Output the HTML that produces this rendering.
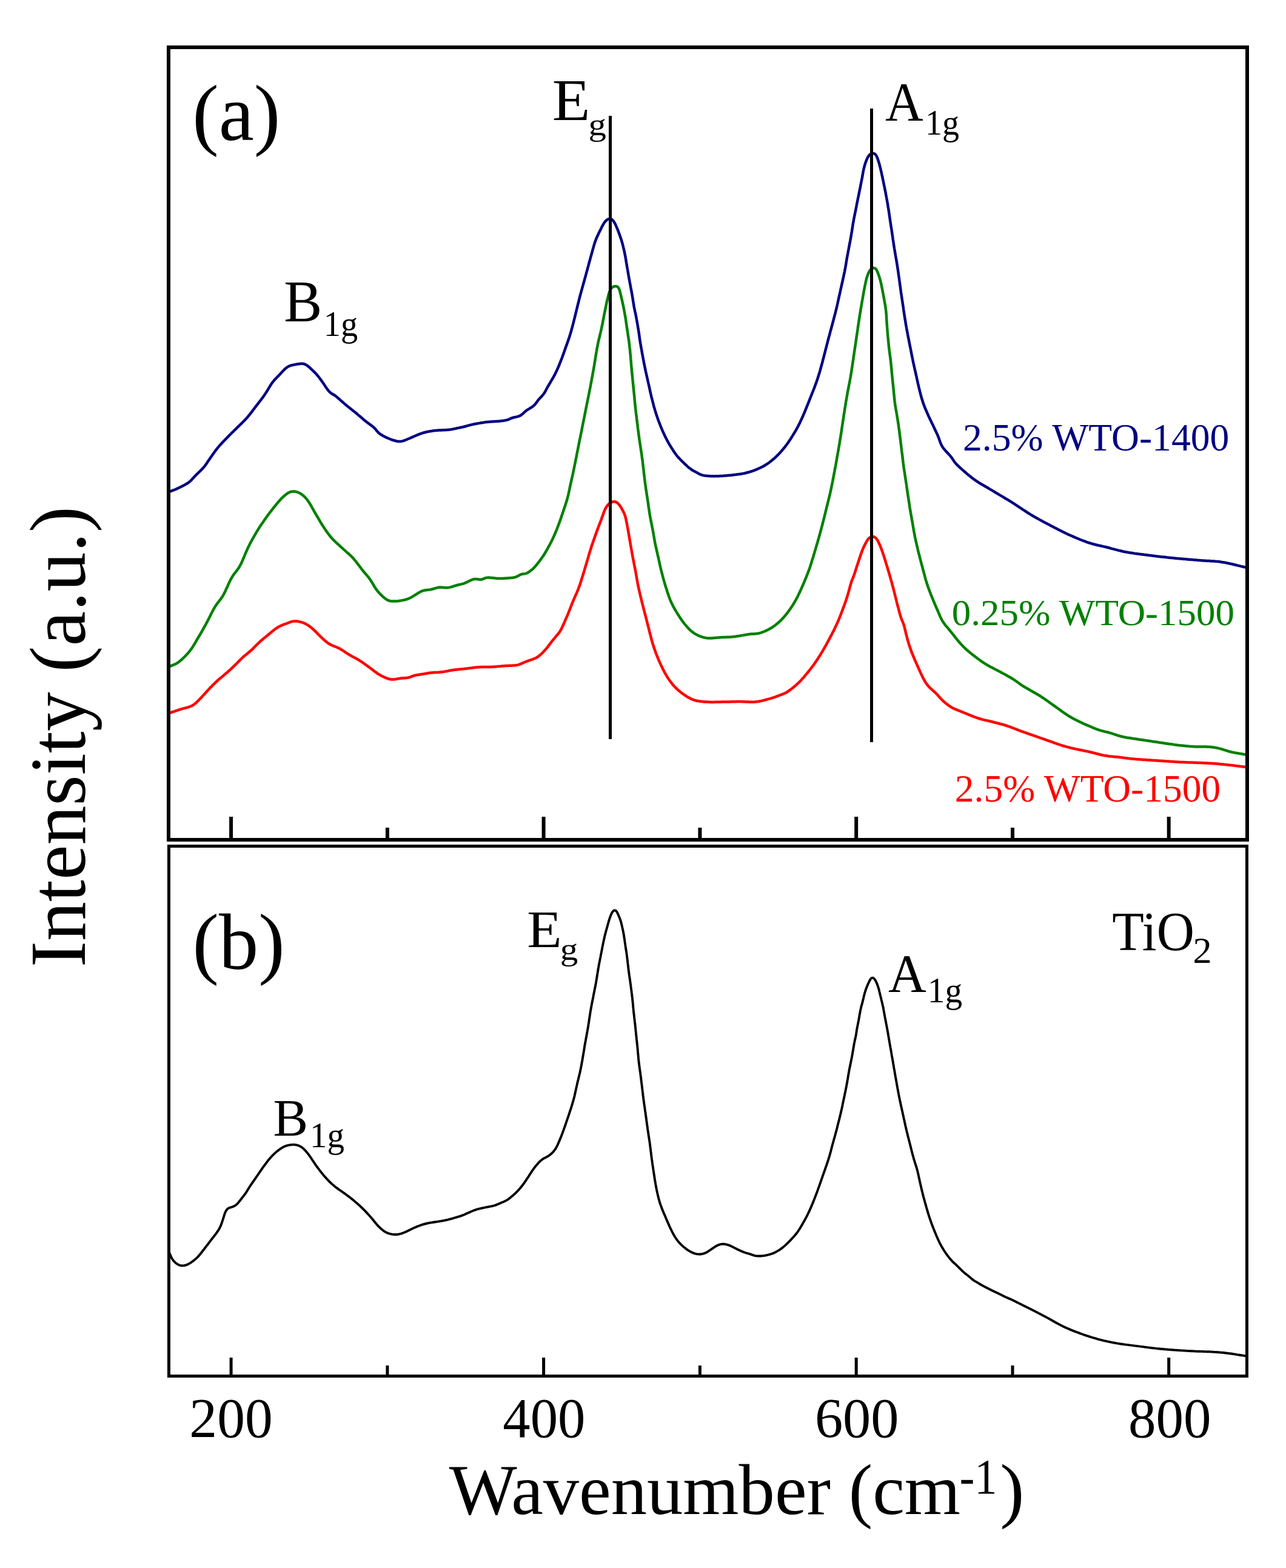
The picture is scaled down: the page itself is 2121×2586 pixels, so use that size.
<!DOCTYPE html>
<html><head><meta charset="utf-8"><title>Raman spectra</title>
<style>html,body{margin:0;padding:0;background:#fff;} svg{display:block;}</style>
</head><body>
<svg xmlns="http://www.w3.org/2000/svg" width="2121" height="2586" viewBox="0 0 2121 2586">
<defs>
<clipPath id="ca"><rect x="281" y="81" width="1773" height="1301"/></clipPath>
<clipPath id="cb"><rect x="281" y="1398" width="1773" height="869"/></clipPath>
</defs>
<rect x="0" y="0" width="2121" height="2586" fill="#fff"/>
<g fill="none" stroke-linejoin="round" stroke-linecap="round">
<g clip-path="url(#ca)">
<path d="M277.1,811.6L278.3,811.2L279.9,810.6L281.7,810.0L283.6,809.4L285.4,808.7L287.3,808.0L289.2,807.2L291.0,806.4L292.8,805.6L294.6,804.7L296.4,803.9L298.2,803.0L300.0,802.1L301.8,801.2L303.6,800.3L305.3,799.3L307.1,798.3L308.8,797.3L310.4,796.2L312.0,795.0L313.5,793.7L315.0,792.4L316.4,790.9L317.7,789.4L319.1,788.0L320.4,786.5L321.8,785.0L323.2,783.6L324.6,782.2L326.0,780.8L327.5,779.4L328.9,778.0L330.4,776.6L331.8,775.2L333.2,773.8L334.5,772.3L335.9,770.8L337.1,769.3L338.4,767.7L339.5,766.1L340.7,764.5L341.8,762.8L342.9,761.1L344.0,759.5L345.1,757.8L346.3,756.2L347.4,754.5L348.6,752.9L349.7,751.3L350.8,749.6L352.0,748.0L353.2,746.4L354.3,744.7L355.5,743.1L356.7,741.5L358.0,740.0L359.2,738.4L360.5,736.9L361.8,735.3L363.1,733.8L364.5,732.4L365.8,730.9L367.2,729.4L368.6,728.0L369.9,726.5L371.3,725.1L372.7,723.7L374.1,722.2L375.5,720.8L376.9,719.4L378.3,717.9L379.7,716.5L381.1,715.1L382.6,713.7L384.0,712.3L385.4,710.9L386.8,709.5L388.3,708.1L389.7,706.7L391.1,705.3L392.5,703.9L394.0,702.5L395.4,701.1L396.9,699.7L398.3,698.3L399.7,696.9L401.1,695.5L402.5,694.1L403.9,692.6L405.3,691.2L406.6,689.7L408.0,688.2L409.3,686.7L410.5,685.1L411.8,683.6L413.0,682.0L414.3,680.4L415.5,678.8L416.7,677.3L417.9,675.7L419.1,674.1L420.3,672.5L421.5,670.9L422.7,669.3L424.0,667.7L425.2,666.1L426.4,664.5L427.6,663.0L428.8,661.4L430.1,659.8L431.3,658.2L432.5,656.6L433.7,655.0L434.8,653.4L436.0,651.7L437.1,650.1L438.2,648.4L439.3,646.7L440.4,645.0L441.4,643.3L442.4,641.6L443.4,639.9L444.5,638.2L445.5,636.5L446.6,634.8L447.7,633.1L448.8,631.5L450.0,629.9L451.3,628.3L452.6,626.8L454.0,625.3L455.3,623.9L456.7,622.5L458.1,621.0L459.5,619.6L460.9,618.1L462.3,616.7L463.6,615.2L465.0,613.7L466.3,612.3L467.7,610.8L469.1,609.4L470.6,608.0L472.1,606.8L473.7,605.6L475.4,604.6L477.2,603.7L479.0,603.0L480.9,602.4L482.9,602.0L484.8,601.6L486.8,601.2L488.8,600.8L490.7,600.5L492.7,600.2L494.7,599.9L496.7,599.8L498.6,599.8L500.6,600.0L502.4,600.6L504.2,601.4L505.9,602.4L507.5,603.6L509.0,604.8L510.6,606.1L512.1,607.5L513.5,608.8L515.0,610.2L516.4,611.6L517.9,613.0L519.3,614.4L520.6,615.8L522.0,617.3L523.3,618.8L524.6,620.4L525.8,621.9L527.0,623.5L528.2,625.1L529.4,626.7L530.6,628.4L531.7,630.0L532.9,631.6L534.0,633.3L535.1,635.0L536.2,636.6L537.3,638.3L538.5,639.9L539.6,641.6L540.8,643.2L542.0,644.7L543.4,646.2L544.8,647.5L546.4,648.7L548.1,649.7L549.8,650.7L551.5,651.7L553.2,652.9L554.7,654.1L556.3,655.4L557.8,656.7L559.3,658.0L560.8,659.3L562.3,660.7L563.8,662.0L565.3,663.3L566.8,664.6L568.3,665.9L569.8,667.2L571.3,668.5L572.9,669.8L574.4,671.1L576.0,672.3L577.6,673.5L579.1,674.8L580.7,676.0L582.3,677.2L583.8,678.5L585.4,679.7L587.0,681.0L588.5,682.3L590.0,683.6L591.5,684.9L593.1,686.2L594.6,687.5L596.1,688.8L597.6,690.1L599.1,691.4L600.7,692.7L602.2,693.9L603.8,695.2L605.3,696.4L606.9,697.6L608.6,698.8L610.2,700.0L611.8,701.2L613.4,702.4L614.9,703.6L616.5,704.9L617.9,706.3L619.2,707.8L620.5,709.3L621.7,710.9L623.0,712.4L624.4,713.8L625.9,715.1L627.5,716.2L629.2,717.3L630.9,718.3L632.7,719.3L634.5,720.2L636.3,721.1L638.1,721.9L639.9,722.7L641.8,723.5L643.6,724.2L645.5,725.0L647.4,725.6L649.3,726.3L651.2,726.8L653.1,727.3L655.1,727.7L657.0,727.9L659.0,728.0L661.0,727.9L662.9,727.6L664.9,727.1L666.8,726.5L668.6,725.8L670.5,725.0L672.3,724.2L674.2,723.5L676.0,722.7L677.9,721.9L679.7,721.1L681.5,720.3L683.4,719.5L685.2,718.7L687.0,717.9L688.9,717.2L690.7,716.4L692.6,715.7L694.5,715.0L696.4,714.3L698.3,713.7L700.2,713.2L702.1,712.7L704.1,712.3L706.0,711.9L708.0,711.5L710.0,711.2L711.9,710.9L713.9,710.6L715.9,710.3L717.9,710.1L719.9,709.9L721.9,709.7L723.9,709.6L725.9,709.5L727.9,709.4L729.9,709.3L731.9,709.3L733.9,709.2L735.9,709.1L737.8,708.9L739.8,708.7L741.8,708.5L743.8,708.2L745.8,707.9L747.7,707.5L749.7,707.1L751.7,706.7L753.6,706.3L755.6,705.9L757.5,705.5L759.5,705.0L761.4,704.6L763.4,704.2L765.3,703.7L767.3,703.2L769.2,702.7L771.1,702.1L773.0,701.6L775.0,701.1L776.9,700.6L778.9,700.1L780.8,699.7L782.8,699.3L784.7,698.9L786.7,698.6L788.7,698.2L790.6,697.9L792.6,697.5L794.6,697.2L796.6,696.9L798.5,696.6L800.5,696.3L802.5,696.1L804.5,695.9L806.5,695.7L808.5,695.5L810.5,695.4L812.5,695.3L814.5,695.2L816.5,695.1L818.5,695.0L820.5,694.8L822.5,694.7L824.4,694.5L826.4,694.2L828.4,694.0L830.4,693.7L832.4,693.4L834.3,693.0L836.3,692.6L838.2,692.0L840.0,691.3L841.8,690.4L843.6,689.6L845.5,689.0L847.4,688.4L849.3,688.0L851.3,687.6L853.2,687.1L855.1,686.6L857.0,685.9L858.7,685.0L860.4,683.9L861.9,682.6L863.4,681.3L864.8,679.9L866.3,678.6L867.9,677.3L869.5,676.2L871.2,675.1L872.9,674.1L874.6,673.0L876.3,672.0L877.9,670.9L879.5,669.7L881.0,668.4L882.4,667.0L883.6,665.4L884.8,663.8L885.9,662.2L887.1,660.6L888.4,659.0L889.7,657.5L891.1,656.1L892.4,654.6L893.8,653.1L895.1,651.6L896.3,650.1L897.5,648.5L898.6,646.8L899.6,645.0L900.5,643.3L901.4,641.5L902.4,639.8L903.3,638.0L904.3,636.3L905.3,634.5L906.4,632.8L907.4,631.1L908.4,629.4L909.4,627.7L910.5,625.9L911.5,624.2L912.5,622.5L913.4,620.7L914.4,619.0L915.3,617.2L916.2,615.4L917.1,613.6L918.0,611.8L918.8,610.0L919.6,608.2L920.4,606.3L921.2,604.5L922.0,602.7L922.7,600.8L923.4,598.9L924.2,597.1L924.9,595.2L925.6,593.4L926.4,591.5L927.1,589.6L927.8,587.7L928.5,585.9L929.1,584.0L929.8,582.1L930.5,580.2L931.1,578.3L931.8,576.4L932.5,574.6L933.1,572.7L933.8,570.8L934.5,568.9L935.2,567.0L935.8,565.1L936.5,563.3L937.2,561.4L937.8,559.5L938.5,557.6L939.1,555.7L939.7,553.8L940.3,551.9L940.9,550.0L941.4,548.0L942.0,546.1L942.5,544.2L943.0,542.3L943.6,540.3L944.1,538.4L944.6,536.5L945.1,534.5L945.6,532.6L946.1,530.7L946.6,528.7L947.1,526.8L947.6,524.8L948.1,522.9L948.5,521.0L949.0,519.0L949.5,517.1L950.0,515.1L950.4,513.2L950.9,511.2L951.4,509.3L951.9,507.4L952.3,505.4L952.8,503.5L953.3,501.5L953.8,499.6L954.3,497.6L954.7,495.7L955.2,493.8L955.7,491.8L956.2,489.9L956.7,487.9L957.2,486.0L957.7,484.1L958.3,482.2L958.8,480.2L959.3,478.3L959.9,476.4L960.4,474.4L960.9,472.5L961.5,470.6L962.0,468.7L962.6,466.7L963.1,464.8L963.6,462.9L964.2,461.0L964.7,459.0L965.2,457.1L965.8,455.2L966.3,453.2L966.8,451.3L967.3,449.4L967.9,447.5L968.4,445.5L968.9,443.6L969.4,441.7L970.0,439.7L970.5,437.8L971.0,435.9L971.5,433.9L972.0,432.0L972.6,430.1L973.1,428.1L973.6,426.2L974.1,424.3L974.7,422.4L975.2,420.4L975.8,418.5L976.3,416.6L976.8,414.7L977.4,412.7L977.9,410.8L978.4,408.9L979.0,406.9L979.5,405.0L980.1,403.1L980.7,401.2L981.3,399.3L982.0,397.4L982.7,395.5L983.4,393.7L984.2,391.8L985.0,390.0L985.8,388.2L986.7,386.4L987.5,384.6L988.4,382.8L989.3,381.0L990.2,379.2L991.1,377.4L992.0,375.6L992.9,373.8L993.8,372.1L994.8,370.3L995.8,368.6L996.9,366.9L998.1,365.4L999.5,363.9L1001.0,362.7L1002.6,361.7L1004.4,361.1L1006.2,361.0L1008.0,361.4L1009.6,362.3L1010.9,363.6L1012.1,365.1L1013.2,366.8L1014.2,368.5L1015.1,370.3L1015.9,372.1L1016.7,374.0L1017.5,375.8L1018.3,377.6L1019.0,379.5L1019.7,381.4L1020.4,383.2L1021.1,385.1L1021.8,387.0L1022.5,388.9L1023.1,390.8L1023.8,392.7L1024.4,394.6L1025.0,396.5L1025.6,398.4L1026.1,400.3L1026.7,402.2L1027.2,404.2L1027.7,406.1L1028.1,408.0L1028.6,410.0L1029.1,411.9L1029.5,413.9L1029.9,415.8L1030.3,417.8L1030.7,419.8L1031.1,421.7L1031.5,423.7L1031.8,425.7L1032.2,427.6L1032.5,429.6L1032.8,431.6L1033.1,433.6L1033.4,435.5L1033.8,437.5L1034.1,439.5L1034.4,441.4L1034.8,443.4L1035.1,445.4L1035.5,447.4L1035.8,449.3L1036.2,451.3L1036.5,453.3L1036.8,455.2L1037.2,457.2L1037.5,459.2L1037.9,461.1L1038.3,463.1L1038.6,465.1L1039.0,467.1L1039.3,469.0L1039.7,471.0L1040.1,473.0L1040.4,474.9L1040.8,476.9L1041.2,478.8L1041.5,480.8L1041.9,482.8L1042.3,484.8L1042.6,486.7L1042.9,488.7L1043.3,490.7L1043.6,492.6L1043.9,494.6L1044.2,496.6L1044.5,498.6L1044.8,500.5L1045.2,502.5L1045.5,504.5L1045.8,506.5L1046.2,508.4L1046.6,510.4L1047.0,512.3L1047.4,514.3L1047.9,516.2L1048.3,518.2L1048.7,520.2L1049.1,522.1L1049.5,524.1L1049.8,526.1L1050.2,528.0L1050.5,530.0L1050.9,532.0L1051.2,533.9L1051.6,535.9L1051.9,537.9L1052.2,539.8L1052.5,541.8L1052.9,543.8L1053.2,545.8L1053.5,547.7L1053.8,549.7L1054.1,551.7L1054.3,553.7L1054.6,555.7L1054.9,557.6L1055.2,559.6L1055.5,561.6L1055.8,563.6L1056.1,565.6L1056.5,567.5L1056.8,569.5L1057.1,571.5L1057.5,573.4L1057.8,575.4L1058.2,577.4L1058.5,579.3L1058.9,581.3L1059.2,583.3L1059.6,585.3L1060.0,587.2L1060.3,589.2L1060.7,591.1L1061.1,593.1L1061.5,595.1L1061.8,597.0L1062.2,599.0L1062.6,601.0L1063.0,602.9L1063.4,604.9L1063.8,606.8L1064.2,608.8L1064.6,610.8L1065.0,612.7L1065.5,614.7L1065.9,616.6L1066.3,618.6L1066.8,620.5L1067.2,622.5L1067.7,624.4L1068.1,626.4L1068.5,628.3L1069.0,630.3L1069.4,632.2L1069.9,634.2L1070.3,636.1L1070.7,638.1L1071.2,640.0L1071.6,642.0L1072.0,644.0L1072.4,645.9L1072.9,647.9L1073.3,649.8L1073.8,651.8L1074.2,653.7L1074.7,655.6L1075.2,657.6L1075.7,659.5L1076.2,661.5L1076.7,663.4L1077.2,665.3L1077.7,667.3L1078.2,669.2L1078.7,671.1L1079.3,673.1L1079.9,675.0L1080.4,676.9L1081.0,678.8L1081.6,680.7L1082.2,682.6L1082.8,684.5L1083.5,686.4L1084.1,688.3L1084.8,690.2L1085.4,692.1L1086.1,694.0L1086.8,695.8L1087.5,697.7L1088.3,699.6L1089.0,701.4L1089.7,703.3L1090.5,705.1L1091.3,707.0L1092.0,708.8L1092.8,710.7L1093.6,712.5L1094.4,714.3L1095.3,716.1L1096.1,718.0L1097.0,719.8L1097.9,721.6L1098.8,723.3L1099.7,725.1L1100.7,726.9L1101.6,728.6L1102.6,730.4L1103.6,732.1L1104.6,733.8L1105.6,735.5L1106.7,737.2L1107.7,738.9L1108.8,740.6L1109.9,742.3L1111.0,744.0L1112.1,745.7L1113.2,747.3L1114.4,748.9L1115.6,750.5L1116.8,752.1L1118.1,753.6L1119.5,755.1L1120.8,756.5L1122.2,758.0L1123.6,759.4L1125.0,760.8L1126.4,762.2L1127.9,763.6L1129.3,765.0L1130.8,766.4L1132.2,767.7L1133.7,769.1L1135.2,770.4L1136.8,771.7L1138.4,772.9L1140.0,774.1L1141.6,775.2L1143.3,776.2L1145.1,777.2L1146.8,778.1L1148.6,779.1L1150.4,780.0L1152.1,781.0L1153.9,781.9L1155.7,782.7L1157.6,783.4L1159.5,783.9L1161.4,784.3L1163.4,784.6L1165.4,784.8L1167.4,785.0L1169.4,785.1L1171.4,785.2L1173.4,785.3L1175.4,785.3L1177.4,785.4L1179.4,785.3L1181.4,785.3L1183.4,785.3L1185.4,785.2L1187.4,785.1L1189.4,785.0L1191.4,784.9L1193.4,784.8L1195.4,784.6L1197.4,784.5L1199.3,784.3L1201.3,784.1L1203.3,783.9L1205.3,783.7L1207.3,783.5L1209.3,783.2L1211.3,783.0L1213.3,782.8L1215.2,782.5L1217.2,782.2L1219.2,782.0L1221.2,781.7L1223.2,781.4L1225.1,781.0L1227.1,780.7L1229.1,780.3L1231.0,779.8L1232.9,779.3L1234.9,778.8L1236.8,778.2L1238.7,777.6L1240.6,777.0L1242.5,776.3L1244.3,775.6L1246.2,774.9L1248.1,774.1L1249.9,773.3L1251.7,772.5L1253.5,771.7L1255.3,770.8L1257.1,769.9L1258.9,769.0L1260.6,768.0L1262.3,767.0L1264.0,765.9L1265.7,764.8L1267.4,763.7L1269.0,762.5L1270.6,761.3L1272.2,760.1L1273.7,758.8L1275.2,757.5L1276.7,756.2L1278.2,754.9L1279.7,753.5L1281.1,752.1L1282.5,750.7L1283.9,749.3L1285.3,747.8L1286.7,746.4L1288.0,744.9L1289.3,743.4L1290.7,741.9L1291.9,740.3L1293.2,738.8L1294.5,737.2L1295.7,735.6L1296.9,734.0L1298.1,732.4L1299.2,730.8L1300.4,729.2L1301.5,727.5L1302.6,725.8L1303.7,724.2L1304.8,722.5L1305.8,720.8L1306.9,719.1L1308.0,717.4L1309.0,715.7L1310.0,714.0L1311.1,712.3L1312.1,710.5L1313.1,708.8L1314.1,707.1L1315.0,705.3L1316.0,703.6L1316.9,701.8L1317.8,700.0L1318.7,698.2L1319.6,696.4L1320.4,694.6L1321.3,692.8L1322.1,691.0L1322.9,689.2L1323.8,687.3L1324.6,685.5L1325.3,683.7L1326.1,681.8L1326.9,680.0L1327.7,678.1L1328.4,676.3L1329.2,674.4L1329.9,672.6L1330.7,670.7L1331.4,668.9L1332.2,667.0L1332.9,665.2L1333.7,663.3L1334.4,661.4L1335.1,659.6L1335.9,657.7L1336.6,655.8L1337.3,654.0L1338.1,652.1L1338.8,650.3L1339.5,648.4L1340.3,646.6L1341.0,644.7L1341.8,642.8L1342.5,641.0L1343.2,639.1L1343.9,637.2L1344.6,635.4L1345.3,633.5L1346.0,631.6L1346.7,629.7L1347.3,627.8L1348.0,625.9L1348.6,624.0L1349.2,622.1L1349.8,620.2L1350.4,618.3L1351.0,616.4L1351.6,614.5L1352.2,612.6L1352.7,610.7L1353.2,608.7L1353.8,606.8L1354.3,604.9L1354.8,602.9L1355.4,601.0L1355.9,599.1L1356.4,597.2L1356.9,595.2L1357.4,593.3L1357.9,591.3L1358.4,589.4L1358.9,587.5L1359.4,585.5L1359.9,583.6L1360.4,581.7L1360.9,579.7L1361.4,577.8L1361.9,575.8L1362.4,573.9L1362.9,572.0L1363.4,570.0L1363.9,568.1L1364.4,566.2L1364.9,564.2L1365.4,562.3L1365.9,560.4L1366.4,558.4L1366.9,556.5L1367.4,554.6L1368.0,552.6L1368.5,550.7L1369.0,548.8L1369.5,546.8L1370.0,544.9L1370.6,543.0L1371.1,541.0L1371.6,539.1L1372.1,537.2L1372.6,535.2L1373.2,533.3L1373.7,531.4L1374.2,529.4L1374.7,527.5L1375.2,525.6L1375.7,523.6L1376.2,521.7L1376.7,519.8L1377.3,517.8L1377.8,515.9L1378.2,514.0L1378.7,512.0L1379.2,510.1L1379.7,508.1L1380.1,506.2L1380.6,504.3L1381.0,502.3L1381.5,500.3L1381.9,498.4L1382.3,496.4L1382.7,494.5L1383.1,492.5L1383.6,490.6L1384.0,488.6L1384.4,486.7L1384.9,484.7L1385.3,482.8L1385.8,480.8L1386.2,478.9L1386.6,476.9L1387.1,475.0L1387.5,473.0L1387.9,471.1L1388.4,469.1L1388.8,467.1L1389.2,465.2L1389.7,463.2L1390.1,461.3L1390.5,459.3L1391.0,457.4L1391.4,455.4L1391.8,453.5L1392.2,451.5L1392.7,449.6L1393.1,447.6L1393.4,445.6L1393.8,443.7L1394.2,441.7L1394.5,439.7L1394.9,437.8L1395.2,435.8L1395.5,433.8L1395.8,431.8L1396.2,429.9L1396.5,427.9L1396.8,425.9L1397.2,424.0L1397.5,422.0L1397.9,420.0L1398.3,418.1L1398.6,416.1L1399.0,414.1L1399.4,412.2L1399.8,410.2L1400.1,408.2L1400.5,406.3L1400.9,404.3L1401.3,402.3L1401.6,400.4L1402.0,398.4L1402.4,396.4L1402.7,394.5L1403.1,392.5L1403.5,390.5L1403.8,388.6L1404.1,386.6L1404.4,384.6L1404.8,382.6L1405.1,380.7L1405.4,378.7L1405.7,376.7L1406.0,374.7L1406.3,372.8L1406.6,370.8L1406.9,368.8L1407.3,366.8L1407.6,364.9L1408.0,362.9L1408.3,360.9L1408.7,359.0L1409.1,357.0L1409.5,355.0L1409.9,353.1L1410.3,351.1L1410.7,349.2L1411.1,347.2L1411.5,345.2L1411.9,343.3L1412.3,341.3L1412.7,339.4L1413.0,337.4L1413.4,335.4L1413.8,333.5L1414.2,331.5L1414.6,329.6L1415.0,327.6L1415.4,325.6L1415.8,323.7L1416.2,321.7L1416.6,319.8L1417.0,317.8L1417.4,315.8L1417.8,313.9L1418.2,311.9L1418.6,310.0L1419.0,308.0L1419.4,306.0L1419.7,304.1L1420.1,302.1L1420.5,300.1L1420.9,298.2L1421.3,296.2L1421.7,294.2L1422.0,292.3L1422.4,290.3L1422.7,288.3L1423.1,286.4L1423.4,284.4L1423.8,282.4L1424.2,280.5L1424.6,278.5L1425.1,276.6L1425.6,274.6L1426.1,272.7L1426.7,270.8L1427.3,268.9L1428.0,267.0L1428.7,265.1L1429.4,263.3L1430.2,261.5L1431.1,259.7L1432.1,258.0L1433.3,256.4L1434.6,255.0L1436.1,253.8L1437.8,253.0L1439.6,252.8L1441.3,253.1L1442.9,253.9L1444.2,255.2L1445.3,256.8L1446.2,258.6L1447.0,260.4L1447.7,262.3L1448.3,264.2L1448.9,266.1L1449.5,268.0L1450.1,269.9L1450.6,271.8L1451.1,273.8L1451.6,275.7L1452.1,277.6L1452.6,279.6L1453.0,281.5L1453.5,283.5L1453.9,285.4L1454.3,287.4L1454.7,289.3L1455.2,291.3L1455.6,293.2L1456.0,295.2L1456.4,297.2L1456.8,299.1L1457.2,301.1L1457.6,303.0L1458.0,305.0L1458.4,307.0L1458.8,308.9L1459.2,310.9L1459.6,312.8L1460.0,314.8L1460.4,316.8L1460.8,318.7L1461.1,320.7L1461.5,322.7L1461.9,324.6L1462.2,326.6L1462.6,328.6L1462.9,330.5L1463.3,332.5L1463.6,334.5L1464.0,336.4L1464.3,338.4L1464.6,340.4L1464.9,342.4L1465.3,344.3L1465.6,346.3L1465.9,348.3L1466.2,350.3L1466.5,352.2L1466.7,354.2L1467.0,356.2L1467.3,358.2L1467.6,360.2L1467.9,362.1L1468.2,364.1L1468.5,366.1L1468.8,368.1L1469.1,370.1L1469.4,372.0L1469.7,374.0L1470.0,376.0L1470.3,378.0L1470.6,379.9L1470.9,381.9L1471.2,383.9L1471.5,385.9L1471.8,387.9L1472.1,389.8L1472.4,391.8L1472.6,393.8L1472.9,395.8L1473.2,397.7L1473.5,399.7L1473.8,401.7L1474.1,403.7L1474.4,405.7L1474.7,407.6L1475.0,409.6L1475.4,411.6L1475.7,413.6L1476.0,415.5L1476.4,417.5L1476.7,419.5L1477.0,421.4L1477.4,423.4L1477.7,425.4L1478.1,427.4L1478.4,429.3L1478.7,431.3L1479.1,433.3L1479.4,435.2L1479.7,437.2L1480.0,439.2L1480.3,441.2L1480.6,443.2L1480.9,445.1L1481.2,447.1L1481.5,449.1L1481.8,451.1L1482.0,453.1L1482.3,455.0L1482.6,457.0L1482.9,459.0L1483.2,461.0L1483.4,463.0L1483.7,464.9L1484.0,466.9L1484.2,468.9L1484.5,470.9L1484.8,472.9L1485.0,474.9L1485.3,476.8L1485.6,478.8L1485.8,480.8L1486.1,482.8L1486.4,484.8L1486.7,486.7L1487.0,488.7L1487.3,490.7L1487.6,492.7L1487.9,494.6L1488.2,496.6L1488.5,498.6L1488.8,500.6L1489.1,502.6L1489.4,504.5L1489.7,506.5L1490.0,508.5L1490.2,510.5L1490.5,512.5L1490.8,514.4L1491.1,516.4L1491.4,518.4L1491.7,520.4L1492.0,522.3L1492.3,524.3L1492.6,526.3L1493.0,528.3L1493.3,530.2L1493.6,532.2L1493.9,534.2L1494.3,536.2L1494.6,538.1L1495.0,540.1L1495.3,542.1L1495.7,544.0L1496.0,546.0L1496.4,548.0L1496.8,549.9L1497.1,551.9L1497.5,553.9L1497.9,555.8L1498.3,557.8L1498.7,559.8L1499.1,561.7L1499.4,563.7L1499.8,565.6L1500.2,567.6L1500.6,569.6L1501.0,571.5L1501.4,573.5L1501.8,575.4L1502.2,577.4L1502.6,579.4L1502.9,581.3L1503.3,583.3L1503.7,585.3L1504.1,587.2L1504.5,589.2L1504.9,591.1L1505.3,593.1L1505.7,595.1L1506.1,597.0L1506.5,599.0L1507.0,600.9L1507.4,602.9L1507.8,604.8L1508.3,606.8L1508.7,608.7L1509.2,610.7L1509.6,612.6L1510.0,614.6L1510.5,616.5L1510.9,618.5L1511.4,620.4L1511.8,622.4L1512.2,624.4L1512.6,626.3L1513.1,628.3L1513.5,630.2L1513.9,632.2L1514.4,634.1L1514.8,636.1L1515.3,638.0L1515.7,640.0L1516.2,641.9L1516.7,643.8L1517.2,645.8L1517.7,647.7L1518.2,649.7L1518.7,651.6L1519.2,653.5L1519.7,655.4L1520.3,657.4L1520.9,659.3L1521.5,661.2L1522.1,663.1L1522.7,665.0L1523.4,666.9L1524.1,668.8L1524.8,670.6L1525.5,672.5L1526.3,674.3L1527.1,676.2L1527.9,678.0L1528.7,679.8L1529.5,681.7L1530.3,683.5L1531.1,685.3L1531.9,687.1L1532.8,689.0L1533.6,690.8L1534.5,692.6L1535.4,694.4L1536.2,696.2L1537.1,698.0L1538.0,699.8L1538.9,701.6L1539.7,703.4L1540.6,705.2L1541.4,707.0L1542.3,708.8L1543.1,710.6L1544.0,712.4L1544.8,714.2L1545.7,716.1L1546.5,717.9L1547.2,719.7L1548.0,721.6L1548.7,723.5L1549.3,725.3L1550.0,727.2L1550.6,729.1L1551.4,731.0L1552.2,732.8L1553.0,734.6L1554.0,736.3L1555.1,738.0L1556.3,739.6L1557.6,741.2L1558.8,742.7L1560.2,744.2L1561.5,745.6L1562.9,747.1L1564.3,748.6L1565.6,750.0L1567.0,751.5L1568.2,753.1L1569.5,754.6L1570.6,756.3L1571.7,757.9L1572.8,759.6L1573.9,761.3L1575.1,762.9L1576.4,764.4L1577.7,765.8L1579.1,767.3L1580.6,768.6L1582.0,770.0L1583.5,771.4L1585.0,772.7L1586.5,774.1L1588.0,775.4L1589.5,776.7L1591.0,778.0L1592.5,779.3L1594.0,780.6L1595.5,781.9L1597.1,783.2L1598.6,784.5L1600.2,785.7L1601.8,787.0L1603.3,788.2L1604.9,789.4L1606.5,790.6L1608.2,791.8L1609.8,792.9L1611.5,794.0L1613.1,795.1L1614.8,796.2L1616.5,797.2L1618.2,798.3L1619.9,799.3L1621.7,800.3L1623.4,801.3L1625.1,802.3L1626.9,803.3L1628.6,804.3L1630.3,805.3L1632.0,806.4L1633.8,807.4L1635.5,808.4L1637.2,809.4L1638.9,810.4L1640.6,811.5L1642.3,812.5L1644.1,813.5L1645.8,814.5L1647.5,815.6L1649.2,816.6L1651.0,817.6L1652.7,818.6L1654.4,819.6L1656.1,820.7L1657.8,821.7L1659.5,822.7L1661.3,823.7L1663.0,824.8L1664.7,825.8L1666.4,826.9L1668.1,827.9L1669.8,829.0L1671.4,830.1L1673.1,831.2L1674.8,832.3L1676.5,833.4L1678.1,834.5L1679.8,835.6L1681.5,836.7L1683.1,837.8L1684.8,838.9L1686.5,840.0L1688.1,841.1L1689.8,842.2L1691.5,843.3L1693.1,844.4L1694.8,845.5L1696.5,846.5L1698.2,847.6L1699.9,848.6L1701.6,849.7L1703.4,850.7L1705.1,851.7L1706.8,852.7L1708.6,853.7L1710.3,854.7L1712.1,855.6L1713.8,856.6L1715.6,857.6L1717.3,858.5L1719.1,859.5L1720.8,860.4L1722.6,861.4L1724.4,862.3L1726.1,863.2L1727.9,864.2L1729.7,865.1L1731.4,866.0L1733.2,867.0L1735.0,867.9L1736.8,868.8L1738.5,869.8L1740.3,870.7L1742.1,871.6L1743.9,872.5L1745.6,873.4L1747.4,874.3L1749.2,875.3L1751.0,876.1L1752.8,877.0L1754.6,877.9L1756.4,878.8L1758.2,879.7L1760.0,880.5L1761.8,881.4L1763.6,882.2L1765.4,883.0L1767.3,883.8L1769.1,884.6L1770.9,885.4L1772.8,886.2L1774.6,887.0L1776.5,887.8L1778.3,888.5L1780.2,889.3L1782.0,890.0L1783.9,890.8L1785.7,891.5L1787.6,892.2L1789.5,892.9L1791.4,893.6L1793.2,894.3L1795.1,894.9L1797.0,895.5L1798.9,896.1L1800.9,896.7L1802.8,897.3L1804.7,897.8L1806.7,898.3L1808.6,898.7L1810.5,899.2L1812.5,899.6L1814.5,900.0L1816.4,900.5L1818.4,900.9L1820.3,901.4L1822.2,901.8L1824.2,902.3L1826.1,902.8L1828.1,903.3L1830.0,903.8L1831.9,904.3L1833.9,904.9L1835.8,905.4L1837.7,905.9L1839.7,906.4L1841.6,906.9L1843.5,907.4L1845.5,907.9L1847.4,908.3L1849.4,908.8L1851.3,909.2L1853.3,909.7L1855.2,910.1L1857.2,910.4L1859.2,910.8L1861.1,911.1L1863.1,911.5L1865.1,911.8L1867.1,912.1L1869.0,912.4L1871.0,912.7L1873.0,912.9L1875.0,913.2L1877.0,913.5L1878.9,913.7L1880.9,914.0L1882.9,914.2L1884.9,914.5L1886.9,914.8L1888.9,915.0L1890.8,915.3L1892.8,915.6L1894.8,915.8L1896.8,916.1L1898.8,916.3L1900.8,916.5L1902.8,916.8L1904.7,917.0L1906.7,917.3L1908.7,917.5L1910.7,917.7L1912.7,917.9L1914.7,918.2L1916.7,918.4L1918.7,918.6L1920.6,918.8L1922.6,919.0L1924.6,919.3L1926.6,919.5L1928.6,919.7L1930.6,919.9L1932.6,920.1L1934.6,920.3L1936.6,920.5L1938.5,920.7L1940.5,920.9L1942.5,921.1L1944.5,921.2L1946.5,921.4L1948.5,921.6L1950.5,921.8L1952.5,922.0L1954.5,922.1L1956.5,922.3L1958.5,922.5L1960.5,922.7L1962.5,922.8L1964.4,923.0L1966.4,923.1L1968.4,923.3L1970.4,923.4L1972.4,923.6L1974.4,923.8L1976.4,923.9L1978.4,924.1L1980.4,924.2L1982.4,924.4L1984.4,924.5L1986.4,924.7L1988.4,924.8L1990.4,924.9L1992.4,925.0L1994.4,925.1L1996.4,925.2L1998.4,925.4L2000.4,925.5L2002.4,925.6L2004.3,925.8L2006.3,925.9L2008.3,926.1L2010.3,926.3L2012.3,926.6L2014.3,926.9L2016.3,927.2L2018.2,927.5L2020.2,927.8L2022.2,928.2L2024.1,928.6L2026.1,929.0L2028.0,929.5L2030.0,929.9L2031.9,930.3L2033.9,930.8L2035.8,931.2L2037.8,931.7L2039.7,932.2L2041.7,932.6L2043.6,933.1L2045.6,933.6L2047.5,934.1L2049.4,934.5L2051.4,935.0L2053.3,935.4L2055.2,935.9L2057.0,936.3L2058.4,936.6L2058.9,936.7" stroke="#000080" stroke-width="4.5"/>
<path d="M277.1,1100.1L278.3,1099.6L279.8,1099.0L281.6,1098.3L283.5,1097.6L285.3,1096.9L287.2,1096.1L289.0,1095.3L290.8,1094.4L292.5,1093.4L294.1,1092.3L295.7,1091.1L297.3,1089.8L298.8,1088.5L300.3,1087.2L301.7,1085.8L303.2,1084.4L304.6,1083.0L306.0,1081.6L307.4,1080.1L308.7,1078.6L310.0,1077.2L311.3,1075.6L312.6,1074.1L313.8,1072.5L315.0,1070.9L316.2,1069.3L317.3,1067.6L318.4,1065.9L319.4,1064.2L320.5,1062.5L321.5,1060.8L322.5,1059.1L323.5,1057.4L324.5,1055.6L325.5,1053.9L326.5,1052.2L327.6,1050.5L328.6,1048.7L329.6,1047.0L330.6,1045.3L331.6,1043.5L332.6,1041.8L333.6,1040.1L334.6,1038.3L335.6,1036.6L336.5,1034.9L337.5,1033.1L338.5,1031.4L339.5,1029.6L340.4,1027.8L341.3,1026.1L342.3,1024.3L343.2,1022.5L344.1,1020.7L345.0,1019.0L345.9,1017.2L346.8,1015.4L347.7,1013.6L348.6,1011.8L349.5,1010.0L350.4,1008.3L351.4,1006.5L352.3,1004.7L353.3,1003.0L354.3,1001.3L355.4,999.6L356.5,997.9L357.6,996.3L358.8,994.7L360.0,993.1L361.3,991.5L362.5,989.9L363.7,988.3L364.9,986.7L366.0,985.0L367.1,983.4L368.1,981.7L369.1,979.9L370.0,978.1L370.9,976.4L371.8,974.6L372.6,972.7L373.4,970.9L374.3,969.1L375.1,967.3L375.9,965.4L376.7,963.6L377.5,961.8L378.4,960.0L379.2,958.2L380.1,956.4L381.1,954.6L382.0,952.9L383.1,951.2L384.2,949.5L385.3,947.8L386.5,946.2L387.7,944.7L388.9,943.1L390.2,941.5L391.4,939.9L392.5,938.3L393.7,936.6L394.7,934.9L395.7,933.2L396.7,931.4L397.6,929.7L398.4,927.9L399.2,926.0L400.1,924.2L400.8,922.4L401.6,920.5L402.4,918.7L403.2,916.8L403.9,915.0L404.7,913.1L405.5,911.3L406.3,909.5L407.1,907.6L407.9,905.8L408.7,904.0L409.6,902.2L410.5,900.4L411.4,898.6L412.3,896.8L413.2,895.0L414.1,893.3L415.1,891.5L416.0,889.8L417.0,888.0L418.0,886.3L419.0,884.5L420.0,882.8L421.0,881.1L422.0,879.3L423.0,877.6L424.1,875.9L425.1,874.2L426.2,872.5L427.2,870.8L428.3,869.1L429.4,867.5L430.5,865.8L431.6,864.2L432.8,862.5L433.9,860.9L435.1,859.2L436.2,857.6L437.4,855.9L438.5,854.3L439.7,852.7L440.8,851.1L442.0,849.4L443.2,847.8L444.4,846.2L445.6,844.6L446.8,843.1L448.1,841.5L449.3,839.9L450.5,838.3L451.8,836.8L453.0,835.2L454.3,833.6L455.5,832.1L456.8,830.5L458.1,829.0L459.4,827.5L460.7,826.0L462.0,824.5L463.4,823.0L464.8,821.6L466.3,820.2L467.7,818.9L469.2,817.5L470.7,816.2L472.3,815.0L473.9,813.8L475.6,812.8L477.4,811.9L479.2,811.2L481.1,810.8L483.1,810.5L485.1,810.5L487.0,810.8L489.0,811.2L490.9,811.8L492.7,812.5L494.5,813.4L496.2,814.4L497.8,815.6L499.4,816.8L500.9,818.1L502.4,819.4L503.8,820.9L505.1,822.4L506.4,823.9L507.6,825.5L508.7,827.1L509.8,828.8L510.9,830.5L511.9,832.2L512.9,833.9L513.9,835.7L514.9,837.4L515.8,839.2L516.8,840.9L517.8,842.6L518.8,844.4L519.8,846.1L520.8,847.8L521.8,849.6L522.8,851.3L523.9,853.0L524.9,854.7L525.9,856.5L526.9,858.2L527.9,859.9L528.9,861.6L530.0,863.3L531.0,865.0L532.1,866.7L533.2,868.4L534.3,870.1L535.4,871.8L536.5,873.4L537.6,875.1L538.8,876.7L539.9,878.3L541.1,879.9L542.3,881.5L543.6,883.1L544.8,884.7L546.1,886.2L547.4,887.7L548.8,889.2L550.1,890.6L551.5,892.0L553.0,893.4L554.4,894.8L555.9,896.2L557.4,897.5L558.9,898.9L560.3,900.2L561.8,901.5L563.3,902.9L564.8,904.2L566.3,905.6L567.8,906.9L569.2,908.2L570.7,909.6L572.2,910.9L573.8,912.2L575.2,913.5L576.7,914.9L578.2,916.3L579.6,917.7L581.0,919.1L582.4,920.5L583.7,922.0L585.0,923.6L586.3,925.1L587.5,926.7L588.7,928.3L589.9,929.8L591.1,931.4L592.3,933.0L593.5,934.6L594.7,936.2L595.9,937.8L597.2,939.4L598.4,941.0L599.7,942.6L600.9,944.1L602.2,945.6L603.6,947.1L604.9,948.6L606.2,950.2L607.4,951.7L608.7,953.3L609.8,954.9L611.0,956.5L612.1,958.2L613.1,959.9L614.1,961.6L615.2,963.3L616.2,965.1L617.2,966.8L618.2,968.5L619.3,970.2L620.5,971.8L621.6,973.4L622.9,975.0L624.2,976.5L625.5,978.0L626.9,979.4L628.3,980.9L629.7,982.3L631.2,983.6L632.7,985.0L634.2,986.3L635.8,987.5L637.4,988.6L639.1,989.6L640.9,990.4L642.8,991.0L644.7,991.3L646.7,991.5L648.7,991.6L650.7,991.6L652.7,991.5L654.7,991.4L656.7,991.2L658.7,990.9L660.6,990.6L662.6,990.3L664.6,989.9L666.5,989.5L668.5,989.0L670.4,988.5L672.3,987.8L674.1,987.1L676.0,986.3L677.7,985.4L679.5,984.4L681.2,983.4L682.9,982.3L684.6,981.3L686.3,980.2L688.0,979.2L689.7,978.1L691.4,977.1L693.1,976.1L694.9,975.2L696.8,974.5L698.7,973.9L700.6,973.5L702.6,973.2L704.6,973.0L706.5,972.8L708.5,972.6L710.5,972.3L712.4,971.8L714.4,971.3L716.3,970.7L718.2,970.1L720.1,969.6L722.0,969.1L724.0,968.8L726.0,968.6L727.9,968.7L729.9,968.8L731.9,969.0L733.9,969.2L735.9,969.3L737.9,969.2L739.8,969.0L741.8,968.6L743.7,968.1L745.6,967.6L747.5,967.0L749.5,966.4L751.4,965.8L753.3,965.3L755.2,964.8L757.2,964.3L759.1,963.9L761.1,963.4L763.0,962.9L764.9,962.3L766.8,961.6L768.6,960.8L770.4,959.9L772.2,959.1L774.0,958.2L775.8,957.3L777.6,956.5L779.5,955.7L781.3,955.2L783.3,954.9L785.2,954.9L787.2,955.2L789.1,955.5L791.1,955.8L793.0,955.8L794.9,955.5L796.7,954.9L798.5,954.1L800.3,953.4L802.2,952.9L804.1,952.6L806.1,952.6L808.1,952.7L810.1,952.9L812.1,953.1L814.1,953.3L816.1,953.5L818.0,953.7L820.0,953.9L822.0,954.0L824.0,954.0L826.0,954.0L828.0,953.9L830.0,953.9L832.0,953.8L834.0,953.7L836.0,953.5L838.0,953.4L840.0,953.3L842.0,953.1L844.0,952.9L846.0,952.7L847.9,952.3L849.9,951.9L851.7,951.2L853.5,950.4L855.3,949.4L857.0,948.5L858.7,947.6L860.6,946.9L862.4,946.6L864.4,946.4L866.3,946.1L868.1,945.6L869.9,944.8L871.6,943.8L873.2,942.7L874.8,941.5L876.4,940.2L877.9,939.0L879.4,937.7L880.8,936.3L882.2,934.8L883.5,933.3L884.8,931.7L886.0,930.2L887.3,928.6L888.5,927.0L889.7,925.4L890.9,923.8L892.1,922.2L893.3,920.6L894.4,919.0L895.6,917.3L896.7,915.7L897.7,914.0L898.8,912.3L899.8,910.5L900.8,908.8L901.8,907.1L902.8,905.3L903.8,903.6L904.7,901.9L905.7,900.1L906.6,898.3L907.6,896.6L908.5,894.8L909.4,893.0L910.3,891.2L911.2,889.4L912.0,887.6L912.9,885.8L913.7,884.0L914.5,882.2L915.3,880.3L916.1,878.5L916.8,876.6L917.6,874.8L918.4,872.9L919.1,871.1L919.8,869.2L920.5,867.3L921.2,865.5L921.9,863.6L922.6,861.7L923.3,859.8L924.0,857.9L924.6,856.1L925.3,854.2L925.9,852.3L926.5,850.4L927.2,848.5L927.8,846.6L928.4,844.7L929.1,842.8L929.7,840.9L930.4,839.0L931.0,837.1L931.7,835.2L932.3,833.3L932.9,831.4L933.5,829.5L934.1,827.6L934.7,825.7L935.3,823.8L935.8,821.8L936.3,819.9L936.8,818.0L937.3,816.0L937.7,814.1L938.1,812.1L938.5,810.2L939.0,808.2L939.4,806.2L939.8,804.3L940.2,802.3L940.6,800.4L941.1,798.4L941.5,796.5L941.9,794.5L942.4,792.6L942.8,790.6L943.2,788.7L943.7,786.7L944.1,784.8L944.6,782.8L945.0,780.9L945.4,778.9L945.8,776.9L946.2,775.0L946.6,773.0L947.0,771.1L947.4,769.1L947.8,767.1L948.2,765.2L948.6,763.2L949.0,761.3L949.4,759.3L949.8,757.3L950.2,755.4L950.6,753.4L951.0,751.5L951.3,749.5L951.7,747.5L952.1,745.6L952.5,743.6L952.9,741.6L953.3,739.7L953.7,737.7L954.1,735.8L954.5,733.8L954.9,731.8L955.2,729.9L955.6,727.9L956.0,725.9L956.4,724.0L956.8,722.0L957.2,720.1L957.6,718.1L958.0,716.1L958.4,714.2L958.8,712.2L959.2,710.3L959.6,708.3L960.0,706.3L960.3,704.4L960.7,702.4L961.1,700.5L961.5,698.5L961.9,696.5L962.3,694.6L962.7,692.6L963.1,690.6L963.5,688.7L963.9,686.7L964.3,684.8L964.7,682.8L965.1,680.8L965.4,678.9L965.8,676.9L966.2,675.0L966.6,673.0L967.0,671.0L967.4,669.1L967.8,667.1L968.2,665.1L968.6,663.2L969.0,661.2L969.4,659.3L969.8,657.3L970.2,655.3L970.6,653.4L971.0,651.4L971.4,649.5L971.7,647.5L972.1,645.5L972.5,643.6L972.9,641.6L973.3,639.6L973.7,637.7L974.0,635.7L974.4,633.8L974.8,631.8L975.1,629.8L975.5,627.9L975.9,625.9L976.2,623.9L976.6,622.0L977.0,620.0L977.3,618.0L977.7,616.0L978.0,614.1L978.4,612.1L978.7,610.1L979.1,608.2L979.4,606.2L979.8,604.2L980.1,602.3L980.4,600.3L980.8,598.3L981.1,596.3L981.4,594.4L981.7,592.4L982.0,590.4L982.3,588.4L982.7,586.5L983.0,584.5L983.3,582.5L983.6,580.5L984.0,578.6L984.3,576.6L984.6,574.6L985.0,572.7L985.4,570.7L985.8,568.7L986.2,566.8L986.6,564.8L987.0,562.9L987.5,560.9L987.9,559.0L988.4,557.0L988.9,555.1L989.4,553.1L989.8,551.2L990.3,549.3L990.8,547.3L991.2,545.4L991.6,543.4L992.1,541.5L992.5,539.5L992.9,537.5L993.3,535.6L993.7,533.6L994.1,531.7L994.4,529.7L994.8,527.7L995.2,525.8L995.6,523.8L996.0,521.8L996.3,519.9L996.7,517.9L997.1,515.9L997.5,514.0L997.9,512.0L998.3,510.1L998.7,508.1L999.1,506.1L999.5,504.2L999.9,502.2L1000.3,500.3L1000.7,498.3L1001.2,496.4L1001.6,494.4L1002.1,492.5L1002.6,490.5L1003.1,488.6L1003.6,486.6L1004.1,484.7L1004.7,482.8L1005.3,480.9L1006.1,479.1L1006.9,477.3L1008.0,475.7L1009.3,474.3L1010.9,473.2L1012.6,472.4L1014.4,472.1L1016.2,472.2L1017.9,472.7L1019.3,473.7L1020.3,475.0L1021.1,476.7L1021.8,478.5L1022.3,480.5L1022.8,482.4L1023.3,484.3L1023.8,486.3L1024.3,488.2L1024.7,490.2L1025.2,492.1L1025.6,494.1L1026.1,496.0L1026.5,498.0L1026.9,499.9L1027.4,501.9L1027.8,503.8L1028.2,505.8L1028.6,507.7L1029.0,509.7L1029.4,511.7L1029.7,513.6L1030.1,515.6L1030.4,517.6L1030.8,519.5L1031.1,521.5L1031.5,523.5L1031.8,525.5L1032.1,527.4L1032.4,529.4L1032.7,531.4L1032.9,533.4L1033.2,535.3L1033.5,537.3L1033.8,539.3L1034.1,541.3L1034.4,543.3L1034.7,545.2L1035.0,547.2L1035.3,549.2L1035.6,551.2L1035.9,553.1L1036.2,555.1L1036.5,557.1L1036.8,559.1L1037.1,561.1L1037.4,563.0L1037.6,565.0L1037.9,567.0L1038.1,569.0L1038.3,571.0L1038.5,573.0L1038.8,575.0L1039.0,577.0L1039.2,578.9L1039.3,580.9L1039.5,582.9L1039.7,584.9L1039.9,586.9L1040.1,588.9L1040.3,590.9L1040.4,592.9L1040.6,594.9L1040.8,596.9L1040.9,598.9L1041.1,600.9L1041.2,602.9L1041.4,604.8L1041.6,606.8L1041.7,608.8L1041.9,610.8L1042.1,612.8L1042.3,614.8L1042.5,616.8L1042.7,618.8L1042.9,620.8L1043.1,622.8L1043.3,624.8L1043.5,626.7L1043.7,628.7L1043.9,630.7L1044.1,632.7L1044.3,634.7L1044.5,636.7L1044.7,638.7L1044.9,640.7L1045.1,642.7L1045.3,644.7L1045.5,646.7L1045.7,648.6L1045.9,650.6L1046.1,652.6L1046.3,654.6L1046.5,656.6L1046.6,658.6L1046.8,660.6L1047.0,662.6L1047.2,664.6L1047.4,666.6L1047.6,668.6L1047.8,670.5L1048.0,672.5L1048.2,674.5L1048.5,676.5L1048.7,678.5L1048.9,680.5L1049.1,682.5L1049.4,684.5L1049.6,686.4L1049.9,688.4L1050.1,690.4L1050.3,692.4L1050.6,694.4L1050.9,696.4L1051.1,698.4L1051.4,700.3L1051.6,702.3L1051.8,704.3L1052.1,706.3L1052.3,708.3L1052.6,710.3L1052.8,712.2L1053.1,714.2L1053.3,716.2L1053.6,718.2L1053.9,720.2L1054.1,722.2L1054.4,724.1L1054.7,726.1L1055.0,728.1L1055.3,730.1L1055.6,732.1L1055.9,734.0L1056.2,736.0L1056.5,738.0L1056.8,740.0L1057.1,741.9L1057.4,743.9L1057.7,745.9L1058.0,747.9L1058.3,749.9L1058.6,751.8L1058.8,753.8L1059.1,755.8L1059.4,757.8L1059.7,759.8L1059.9,761.7L1060.1,763.7L1060.4,765.7L1060.6,767.7L1060.8,769.7L1061.0,771.7L1061.3,773.7L1061.5,775.7L1061.7,777.6L1061.9,779.6L1062.2,781.6L1062.4,783.6L1062.7,785.6L1062.9,787.6L1063.1,789.6L1063.4,791.5L1063.6,793.5L1063.9,795.5L1064.1,797.5L1064.4,799.5L1064.7,801.5L1064.9,803.4L1065.2,805.4L1065.5,807.4L1065.8,809.4L1066.1,811.4L1066.4,813.3L1066.7,815.3L1067.0,817.3L1067.3,819.3L1067.6,821.3L1067.9,823.2L1068.2,825.2L1068.5,827.2L1068.8,829.2L1069.1,831.1L1069.3,833.1L1069.6,835.1L1069.9,837.1L1070.2,839.1L1070.5,841.0L1070.8,843.0L1071.1,845.0L1071.4,847.0L1071.7,849.0L1072.1,850.9L1072.4,852.9L1072.8,854.9L1073.2,856.8L1073.5,858.8L1073.9,860.7L1074.3,862.7L1074.8,864.7L1075.2,866.6L1075.5,868.6L1075.9,870.5L1076.3,872.5L1076.7,874.5L1077.0,876.4L1077.4,878.4L1077.7,880.4L1078.1,882.4L1078.4,884.3L1078.7,886.3L1079.1,888.3L1079.4,890.2L1079.8,892.2L1080.1,894.2L1080.5,896.1L1080.9,898.1L1081.3,900.1L1081.8,902.0L1082.2,904.0L1082.6,905.9L1083.1,907.9L1083.5,909.8L1084.0,911.8L1084.4,913.7L1084.9,915.7L1085.3,917.6L1085.8,919.6L1086.2,921.5L1086.6,923.5L1087.1,925.4L1087.5,927.4L1087.9,929.3L1088.3,931.3L1088.8,933.2L1089.2,935.2L1089.7,937.1L1090.1,939.1L1090.6,941.0L1091.1,943.0L1091.6,944.9L1092.1,946.8L1092.6,948.8L1093.1,950.7L1093.6,952.6L1094.1,954.6L1094.7,956.5L1095.2,958.4L1095.8,960.3L1096.3,962.3L1096.9,964.2L1097.5,966.1L1098.1,968.0L1098.7,969.9L1099.3,971.8L1099.9,973.7L1100.5,975.6L1101.1,977.5L1101.7,979.4L1102.4,981.3L1103.0,983.2L1103.7,985.1L1104.4,987.0L1105.1,988.8L1105.9,990.7L1106.7,992.5L1107.5,994.3L1108.4,996.1L1109.3,997.9L1110.2,999.7L1111.1,1001.5L1112.1,1003.2L1113.0,1005.0L1114.1,1006.7L1115.1,1008.4L1116.2,1010.1L1117.2,1011.8L1118.3,1013.5L1119.4,1015.2L1120.4,1016.9L1121.5,1018.5L1122.6,1020.2L1123.8,1021.9L1124.9,1023.5L1126.1,1025.1L1127.3,1026.7L1128.5,1028.3L1129.8,1029.9L1131.1,1031.4L1132.4,1032.9L1133.7,1034.4L1135.0,1035.9L1136.4,1037.3L1137.8,1038.7L1139.3,1040.1L1140.8,1041.4L1142.4,1042.6L1144.0,1043.8L1145.7,1044.9L1147.4,1045.9L1149.2,1046.8L1150.9,1047.7L1152.8,1048.6L1154.6,1049.3L1156.5,1050.0L1158.4,1050.6L1160.3,1051.2L1162.2,1051.6L1164.2,1052.0L1166.2,1052.3L1168.2,1052.5L1170.2,1052.6L1172.2,1052.6L1174.1,1052.5L1176.1,1052.3L1178.1,1052.1L1180.1,1051.9L1182.1,1051.7L1184.1,1051.6L1186.1,1051.4L1188.1,1051.2L1190.1,1051.1L1192.1,1051.0L1194.1,1051.0L1196.1,1050.9L1198.1,1050.8L1200.1,1050.7L1202.1,1050.7L1204.1,1050.6L1206.1,1050.4L1208.1,1050.3L1210.1,1050.1L1212.0,1049.9L1214.0,1049.6L1216.0,1049.3L1218.0,1049.0L1219.9,1048.7L1221.9,1048.3L1223.9,1047.9L1225.8,1047.6L1227.8,1047.2L1229.8,1046.9L1231.8,1046.5L1233.7,1046.2L1235.7,1046.0L1237.7,1045.8L1239.7,1045.6L1241.7,1045.5L1243.7,1045.4L1245.7,1045.2L1247.7,1045.0L1249.6,1044.7L1251.6,1044.4L1253.5,1043.9L1255.5,1043.3L1257.3,1042.7L1259.2,1042.0L1261.1,1041.2L1262.9,1040.4L1264.7,1039.6L1266.5,1038.7L1268.3,1037.8L1270.0,1036.8L1271.8,1035.8L1273.5,1034.8L1275.1,1033.7L1276.8,1032.5L1278.4,1031.3L1279.9,1030.1L1281.5,1028.8L1283.0,1027.5L1284.5,1026.2L1286.0,1024.8L1287.4,1023.5L1288.9,1022.1L1290.2,1020.6L1291.6,1019.1L1292.9,1017.7L1294.2,1016.1L1295.5,1014.6L1296.8,1013.0L1298.0,1011.5L1299.2,1009.9L1300.4,1008.3L1301.6,1006.7L1302.8,1005.0L1303.9,1003.4L1305.0,1001.7L1306.1,1000.1L1307.2,998.4L1308.3,996.7L1309.3,995.0L1310.3,993.3L1311.3,991.5L1312.3,989.8L1313.3,988.1L1314.2,986.3L1315.2,984.5L1316.1,982.7L1316.9,980.9L1317.8,979.1L1318.7,977.3L1319.5,975.5L1320.3,973.7L1321.2,971.9L1322.0,970.0L1322.8,968.2L1323.6,966.4L1324.4,964.5L1325.2,962.7L1325.9,960.9L1326.7,959.0L1327.5,957.2L1328.2,955.3L1329.0,953.5L1329.8,951.6L1330.5,949.8L1331.2,947.9L1332.0,946.0L1332.7,944.2L1333.4,942.3L1334.1,940.4L1334.8,938.5L1335.4,936.7L1336.1,934.8L1336.7,932.9L1337.3,931.0L1337.9,929.1L1338.5,927.2L1339.1,925.2L1339.7,923.3L1340.3,921.4L1340.9,919.5L1341.5,917.6L1342.0,915.7L1342.6,913.8L1343.2,911.8L1343.7,909.9L1344.3,908.0L1344.9,906.1L1345.4,904.2L1346.0,902.2L1346.6,900.3L1347.1,898.4L1347.7,896.5L1348.3,894.6L1348.8,892.6L1349.4,890.7L1349.9,888.8L1350.5,886.9L1351.0,885.0L1351.5,883.0L1352.1,881.1L1352.6,879.2L1353.1,877.2L1353.7,875.3L1354.2,873.4L1354.7,871.4L1355.2,869.5L1355.7,867.6L1356.2,865.6L1356.7,863.7L1357.2,861.8L1357.7,859.8L1358.2,857.9L1358.7,856.0L1359.2,854.0L1359.7,852.1L1360.1,850.1L1360.6,848.2L1361.1,846.2L1361.6,844.3L1362.1,842.4L1362.5,840.4L1363.0,838.5L1363.5,836.5L1364.0,834.6L1364.4,832.7L1364.9,830.7L1365.4,828.8L1365.9,826.8L1366.4,824.9L1366.9,822.9L1367.3,821.0L1367.8,819.1L1368.3,817.1L1368.7,815.2L1369.2,813.2L1369.6,811.3L1370.0,809.3L1370.5,807.4L1370.9,805.4L1371.3,803.4L1371.7,801.5L1372.1,799.5L1372.5,797.6L1372.9,795.6L1373.3,793.6L1373.6,791.7L1374.0,789.7L1374.4,787.7L1374.8,785.8L1375.2,783.8L1375.5,781.9L1375.9,779.9L1376.3,777.9L1376.6,776.0L1377.0,774.0L1377.4,772.0L1377.7,770.1L1378.1,768.1L1378.5,766.1L1378.8,764.2L1379.2,762.2L1379.5,760.2L1379.9,758.2L1380.2,756.3L1380.6,754.3L1380.9,752.3L1381.3,750.4L1381.6,748.4L1382.0,746.4L1382.3,744.5L1382.7,742.5L1383.0,740.5L1383.3,738.5L1383.7,736.6L1384.0,734.6L1384.3,732.6L1384.7,730.7L1385.0,728.7L1385.3,726.7L1385.6,724.7L1386.0,722.8L1386.3,720.8L1386.6,718.8L1386.9,716.8L1387.2,714.9L1387.5,712.9L1387.8,710.9L1388.1,708.9L1388.4,706.9L1388.7,705.0L1389.0,703.0L1389.3,701.0L1389.6,699.0L1389.9,697.1L1390.2,695.1L1390.5,693.1L1390.8,691.1L1391.1,689.2L1391.4,687.2L1391.7,685.2L1392.0,683.2L1392.3,681.2L1392.6,679.3L1392.9,677.3L1393.2,675.3L1393.5,673.3L1393.8,671.4L1394.2,669.4L1394.5,667.4L1394.8,665.4L1395.1,663.5L1395.4,661.5L1395.8,659.5L1396.1,657.5L1396.4,655.6L1396.8,653.6L1397.1,651.6L1397.5,649.7L1397.8,647.7L1398.2,645.7L1398.6,643.8L1399.0,641.8L1399.4,639.8L1399.7,637.9L1400.1,635.9L1400.5,633.9L1400.9,632.0L1401.3,630.0L1401.6,628.0L1402.0,626.1L1402.3,624.1L1402.7,622.1L1403.0,620.2L1403.3,618.2L1403.7,616.2L1404.0,614.2L1404.3,612.3L1404.6,610.3L1404.9,608.3L1405.2,606.3L1405.5,604.4L1405.8,602.4L1406.1,600.4L1406.4,598.4L1406.7,596.5L1407.0,594.5L1407.3,592.5L1407.6,590.5L1407.9,588.5L1408.2,586.6L1408.5,584.6L1408.7,582.6L1409.0,580.6L1409.3,578.6L1409.6,576.7L1409.9,574.7L1410.2,572.7L1410.5,570.7L1410.8,568.7L1411.1,566.8L1411.4,564.8L1411.6,562.8L1411.9,560.8L1412.2,558.9L1412.5,556.9L1412.8,554.9L1413.1,552.9L1413.4,550.9L1413.7,549.0L1414.0,547.0L1414.3,545.0L1414.6,543.0L1414.8,541.0L1415.1,539.1L1415.4,537.1L1415.7,535.1L1416.0,533.1L1416.3,531.1L1416.6,529.2L1416.9,527.2L1417.2,525.2L1417.5,523.2L1417.8,521.3L1418.1,519.3L1418.4,517.3L1418.8,515.3L1419.1,513.4L1419.4,511.4L1419.7,509.4L1420.1,507.4L1420.4,505.5L1420.7,503.5L1421.1,501.5L1421.4,499.6L1421.7,497.6L1422.1,495.6L1422.4,493.6L1422.8,491.7L1423.1,489.7L1423.5,487.7L1423.8,485.8L1424.2,483.8L1424.5,481.8L1424.9,479.9L1425.2,477.9L1425.6,475.9L1426.0,474.0L1426.4,472.0L1426.8,470.0L1427.2,468.1L1427.6,466.1L1428.0,464.2L1428.5,462.2L1428.9,460.3L1429.5,458.3L1430.1,456.4L1430.7,454.5L1431.4,452.7L1432.1,450.8L1433.0,449.0L1433.9,447.3L1435.0,445.6L1436.3,444.2L1437.8,443.0L1439.4,442.1L1441.1,441.9L1442.7,442.3L1444.2,443.3L1445.4,444.7L1446.3,446.4L1447.1,448.2L1447.9,450.0L1448.6,451.9L1449.2,453.8L1449.9,455.7L1450.5,457.6L1451.1,459.5L1451.6,461.4L1452.2,463.4L1452.6,465.3L1453.1,467.2L1453.5,469.2L1453.9,471.2L1454.3,473.1L1454.7,475.1L1455.1,477.0L1455.5,479.0L1455.9,481.0L1456.2,482.9L1456.6,484.9L1457.0,486.9L1457.4,488.8L1457.7,490.8L1458.1,492.8L1458.4,494.7L1458.8,496.7L1459.1,498.7L1459.5,500.6L1459.8,502.6L1460.1,504.6L1460.4,506.6L1460.7,508.5L1461.0,510.5L1461.2,512.5L1461.4,514.5L1461.6,516.5L1461.8,518.5L1461.9,520.5L1462.0,522.5L1462.1,524.5L1462.2,526.5L1462.3,528.5L1462.5,530.5L1462.6,532.5L1462.8,534.5L1462.9,536.4L1463.1,538.4L1463.2,540.4L1463.4,542.4L1463.5,544.4L1463.7,546.4L1463.8,548.4L1464.0,550.4L1464.2,552.4L1464.3,554.4L1464.5,556.4L1464.7,558.4L1464.9,560.4L1465.1,562.4L1465.3,564.4L1465.5,566.3L1465.7,568.3L1465.9,570.3L1466.1,572.3L1466.3,574.3L1466.6,576.3L1466.8,578.3L1467.1,580.3L1467.3,582.2L1467.6,584.2L1467.8,586.2L1468.1,588.2L1468.4,590.2L1468.6,592.2L1468.9,594.1L1469.1,596.1L1469.3,598.1L1469.5,600.1L1469.7,602.1L1469.9,604.1L1470.1,606.1L1470.3,608.1L1470.5,610.1L1470.7,612.0L1470.8,614.0L1471.0,616.0L1471.2,618.0L1471.4,620.0L1471.6,622.0L1471.8,624.0L1472.0,626.0L1472.2,628.0L1472.4,630.0L1472.6,632.0L1472.8,633.9L1473.0,635.9L1473.2,637.9L1473.4,639.9L1473.6,641.9L1473.8,643.9L1474.0,645.9L1474.2,647.9L1474.4,649.9L1474.6,651.9L1474.8,653.9L1475.0,655.8L1475.2,657.8L1475.4,659.8L1475.6,661.8L1475.9,663.8L1476.1,665.8L1476.4,667.8L1476.7,669.7L1477.1,671.7L1477.4,673.7L1477.7,675.6L1478.1,677.6L1478.4,679.6L1478.8,681.6L1479.1,683.5L1479.4,685.5L1479.7,687.5L1480.0,689.5L1480.4,691.4L1480.7,693.4L1481.0,695.4L1481.3,697.4L1481.6,699.3L1481.9,701.3L1482.2,703.3L1482.4,705.3L1482.7,707.3L1483.0,709.2L1483.2,711.2L1483.5,713.2L1483.7,715.2L1484.0,717.2L1484.2,719.2L1484.5,721.1L1484.7,723.1L1485.0,725.1L1485.2,727.1L1485.5,729.1L1485.7,731.1L1486.0,733.1L1486.2,735.0L1486.4,737.0L1486.7,739.0L1486.9,741.0L1487.2,743.0L1487.4,745.0L1487.7,747.0L1487.9,748.9L1488.2,750.9L1488.4,752.9L1488.6,754.9L1488.9,756.9L1489.1,758.9L1489.3,760.9L1489.6,762.8L1489.8,764.8L1490.1,766.8L1490.4,768.8L1490.6,770.8L1490.9,772.8L1491.2,774.7L1491.5,776.7L1491.8,778.7L1492.1,780.7L1492.4,782.6L1492.7,784.6L1493.0,786.6L1493.3,788.6L1493.6,790.6L1493.9,792.5L1494.2,794.5L1494.5,796.5L1494.8,798.5L1495.1,800.4L1495.4,802.4L1495.6,804.4L1495.9,806.4L1496.2,808.4L1496.5,810.3L1496.8,812.3L1497.1,814.3L1497.4,816.3L1497.7,818.3L1498.0,820.2L1498.3,822.2L1498.6,824.2L1498.9,826.2L1499.2,828.1L1499.5,830.1L1499.8,832.1L1500.1,834.1L1500.4,836.1L1500.7,838.0L1501.0,840.0L1501.3,842.0L1501.7,843.9L1502.0,845.9L1502.4,847.9L1502.7,849.9L1503.1,851.8L1503.4,853.8L1503.8,855.8L1504.1,857.7L1504.5,859.7L1504.8,861.7L1505.2,863.6L1505.5,865.6L1505.8,867.6L1506.2,869.6L1506.5,871.5L1506.8,873.5L1507.2,875.5L1507.5,877.4L1507.9,879.4L1508.3,881.4L1508.6,883.3L1509.0,885.3L1509.4,887.3L1509.9,889.2L1510.3,891.2L1510.7,893.1L1511.2,895.1L1511.6,897.0L1512.1,899.0L1512.5,900.9L1513.0,902.9L1513.4,904.8L1513.9,906.8L1514.3,908.7L1514.8,910.7L1515.3,912.6L1515.8,914.5L1516.3,916.5L1516.8,918.4L1517.3,920.4L1517.8,922.3L1518.3,924.2L1518.8,926.2L1519.3,928.1L1519.8,930.0L1520.3,932.0L1520.9,933.9L1521.4,935.8L1521.9,937.7L1522.4,939.7L1522.9,941.6L1523.4,943.5L1524.0,945.5L1524.5,947.4L1525.0,949.3L1525.5,951.3L1526.0,953.2L1526.5,955.1L1527.1,957.1L1527.7,959.0L1528.3,960.9L1528.9,962.8L1529.5,964.7L1530.1,966.6L1530.8,968.5L1531.5,970.4L1532.2,972.2L1532.9,974.1L1533.6,976.0L1534.3,977.8L1535.0,979.7L1535.8,981.6L1536.5,983.4L1537.3,985.3L1538.0,987.1L1538.8,989.0L1539.5,990.8L1540.3,992.7L1541.1,994.5L1541.8,996.4L1542.6,998.2L1543.4,1000.0L1544.2,1001.9L1545.0,1003.7L1545.8,1005.5L1546.6,1007.4L1547.4,1009.2L1548.2,1011.1L1549.0,1012.9L1549.8,1014.7L1550.5,1016.6L1551.4,1018.4L1552.2,1020.2L1553.2,1022.0L1554.1,1023.7L1555.2,1025.4L1556.3,1027.1L1557.5,1028.7L1558.7,1030.3L1559.9,1031.8L1561.2,1033.4L1562.5,1034.9L1563.8,1036.4L1565.1,1038.0L1566.3,1039.5L1567.6,1041.1L1568.9,1042.6L1570.1,1044.2L1571.4,1045.7L1572.6,1047.3L1573.8,1048.9L1575.0,1050.5L1576.3,1052.1L1577.5,1053.6L1578.8,1055.2L1580.1,1056.7L1581.4,1058.2L1582.7,1059.7L1584.0,1061.2L1585.4,1062.7L1586.7,1064.2L1588.1,1065.6L1589.5,1067.1L1590.9,1068.5L1592.4,1069.8L1593.8,1071.2L1595.3,1072.5L1596.9,1073.8L1598.4,1075.1L1599.9,1076.4L1601.5,1077.6L1603.0,1078.9L1604.6,1080.1L1606.2,1081.3L1607.8,1082.6L1609.4,1083.8L1611.0,1085.0L1612.6,1086.2L1614.2,1087.4L1615.8,1088.5L1617.4,1089.7L1619.1,1090.9L1620.7,1092.0L1622.4,1093.1L1624.0,1094.2L1625.7,1095.3L1627.4,1096.3L1629.2,1097.3L1630.9,1098.3L1632.7,1099.3L1634.4,1100.2L1636.2,1101.1L1638.0,1102.0L1639.8,1102.9L1641.5,1103.9L1643.3,1104.8L1645.1,1105.7L1646.9,1106.6L1648.6,1107.6L1650.4,1108.5L1652.1,1109.5L1653.9,1110.4L1655.7,1111.4L1657.4,1112.3L1659.2,1113.3L1660.9,1114.2L1662.7,1115.2L1664.4,1116.2L1666.2,1117.2L1667.9,1118.2L1669.6,1119.2L1671.3,1120.3L1673.0,1121.4L1674.6,1122.5L1676.2,1123.7L1677.9,1124.9L1679.5,1126.0L1681.1,1127.2L1682.7,1128.4L1684.4,1129.5L1686.0,1130.6L1687.7,1131.7L1689.4,1132.7L1691.1,1133.8L1692.9,1134.8L1694.6,1135.8L1696.3,1136.8L1698.1,1137.8L1699.8,1138.8L1701.6,1139.7L1703.3,1140.7L1705.0,1141.7L1706.8,1142.7L1708.5,1143.7L1710.2,1144.7L1712.0,1145.7L1713.7,1146.8L1715.4,1147.8L1717.0,1148.9L1718.7,1150.0L1720.4,1151.1L1722.0,1152.2L1723.7,1153.3L1725.3,1154.5L1727.0,1155.6L1728.6,1156.8L1730.2,1158.0L1731.8,1159.1L1733.5,1160.3L1735.1,1161.5L1736.7,1162.6L1738.4,1163.8L1740.0,1164.9L1741.6,1166.1L1743.2,1167.3L1744.9,1168.4L1746.5,1169.6L1748.1,1170.8L1749.7,1172.0L1751.4,1173.1L1753.0,1174.3L1754.6,1175.4L1756.3,1176.6L1757.9,1177.7L1759.6,1178.8L1761.3,1179.9L1762.9,1181.0L1764.7,1182.0L1766.4,1183.0L1768.1,1184.0L1769.9,1185.0L1771.6,1185.9L1773.4,1186.8L1775.2,1187.7L1777.0,1188.6L1778.8,1189.5L1780.6,1190.4L1782.4,1191.2L1784.2,1192.1L1786.0,1192.9L1787.8,1193.8L1789.7,1194.6L1791.5,1195.4L1793.3,1196.2L1795.2,1196.9L1797.0,1197.7L1798.9,1198.5L1800.7,1199.3L1802.5,1200.1L1804.4,1200.9L1806.2,1201.6L1808.1,1202.3L1810.0,1203.1L1811.8,1203.7L1813.7,1204.3L1815.7,1204.9L1817.6,1205.4L1819.5,1205.9L1821.5,1206.4L1823.4,1206.9L1825.4,1207.3L1827.3,1207.8L1829.2,1208.3L1831.2,1208.9L1833.1,1209.4L1835.0,1210.1L1836.9,1210.7L1838.8,1211.3L1840.7,1211.9L1842.6,1212.6L1844.5,1213.2L1846.4,1213.7L1848.3,1214.3L1850.3,1214.8L1852.2,1215.2L1854.2,1215.6L1856.1,1216.0L1858.1,1216.4L1860.1,1216.7L1862.0,1217.0L1864.0,1217.3L1866.0,1217.6L1868.0,1217.9L1870.0,1218.2L1871.9,1218.5L1873.9,1218.8L1875.9,1219.1L1877.9,1219.4L1879.8,1219.7L1881.8,1220.0L1883.8,1220.3L1885.8,1220.6L1887.8,1220.9L1889.7,1221.1L1891.7,1221.4L1893.7,1221.7L1895.7,1222.0L1897.7,1222.3L1899.6,1222.6L1901.6,1222.9L1903.6,1223.2L1905.6,1223.5L1907.5,1223.8L1909.5,1224.1L1911.5,1224.4L1913.5,1224.7L1915.4,1225.0L1917.4,1225.3L1919.4,1225.6L1921.4,1225.9L1923.4,1226.2L1925.3,1226.5L1927.3,1226.8L1929.3,1227.1L1931.3,1227.3L1933.3,1227.6L1935.2,1227.9L1937.2,1228.2L1939.2,1228.4L1941.2,1228.7L1943.2,1228.9L1945.2,1229.2L1947.2,1229.4L1949.1,1229.6L1951.1,1229.8L1953.1,1230.0L1955.1,1230.2L1957.1,1230.4L1959.1,1230.6L1961.1,1230.8L1963.1,1230.9L1965.1,1231.1L1967.1,1231.2L1969.1,1231.3L1971.1,1231.4L1973.1,1231.5L1975.1,1231.6L1977.1,1231.6L1979.1,1231.6L1981.1,1231.6L1983.1,1231.6L1985.1,1231.6L1987.1,1231.6L1989.1,1231.6L1991.1,1231.7L1993.1,1231.7L1995.1,1231.8L1997.1,1232.0L1999.0,1232.2L2001.0,1232.4L2003.0,1232.7L2005.0,1233.1L2006.9,1233.5L2008.9,1233.9L2010.8,1234.4L2012.7,1234.9L2014.7,1235.4L2016.6,1236.0L2018.5,1236.6L2020.4,1237.2L2022.3,1237.8L2024.2,1238.4L2026.1,1239.0L2028.1,1239.5L2030.0,1240.0L2032.0,1240.5L2033.9,1240.9L2035.9,1241.3L2037.8,1241.6L2039.8,1242.0L2041.8,1242.3L2043.7,1242.7L2045.7,1243.0L2047.7,1243.3L2049.7,1243.7L2051.6,1244.0L2053.6,1244.3L2055.5,1244.7L2057.2,1245.0L2058.6,1245.2L2058.8,1245.3" stroke="#008000" stroke-width="4.5"/>
<path d="M277.1,1176.6L278.3,1176.3L279.9,1175.7L281.7,1175.1L283.6,1174.5L285.5,1173.9L287.4,1173.3L289.3,1172.6L291.2,1172.0L293.1,1171.3L295.0,1170.7L296.9,1170.1L298.8,1169.5L300.7,1168.9L302.6,1168.4L304.6,1167.9L306.5,1167.4L308.4,1166.9L310.4,1166.3L312.3,1165.7L314.1,1165.0L316.0,1164.2L317.7,1163.3L319.4,1162.2L321.0,1161.0L322.5,1159.8L324.0,1158.4L325.4,1157.0L326.9,1155.6L328.2,1154.2L329.6,1152.7L331.0,1151.3L332.4,1149.9L333.8,1148.4L335.1,1146.9L336.5,1145.5L337.8,1144.0L339.2,1142.5L340.5,1141.0L341.8,1139.5L343.2,1138.0L344.6,1136.6L345.9,1135.1L347.3,1133.7L348.7,1132.3L350.1,1130.8L351.5,1129.4L353.0,1128.0L354.4,1126.6L355.8,1125.2L357.3,1123.8L358.7,1122.5L360.2,1121.1L361.7,1119.8L363.3,1118.5L364.8,1117.2L366.3,1116.0L367.9,1114.7L369.4,1113.4L371.0,1112.1L372.5,1110.8L374.0,1109.5L375.5,1108.2L377.0,1106.9L378.5,1105.5L380.0,1104.2L381.4,1102.8L382.9,1101.5L384.4,1100.1L385.8,1098.7L387.2,1097.3L388.7,1095.9L390.1,1094.5L391.5,1093.1L392.9,1091.7L394.2,1090.2L395.6,1088.8L397.1,1087.4L398.5,1086.0L399.9,1084.6L401.4,1083.3L402.9,1081.9L404.5,1080.7L406.0,1079.4L407.6,1078.1L409.1,1076.9L410.7,1075.6L412.2,1074.3L413.7,1073.0L415.2,1071.6L416.6,1070.3L418.0,1068.9L419.4,1067.4L420.8,1066.0L422.2,1064.6L423.7,1063.2L425.1,1061.7L426.5,1060.4L428.0,1059.0L429.4,1057.6L430.9,1056.3L432.5,1055.0L434.0,1053.7L435.5,1052.5L437.1,1051.2L438.6,1049.9L440.2,1048.7L441.7,1047.4L443.3,1046.1L444.8,1044.9L446.4,1043.6L447.9,1042.3L449.4,1041.0L451.0,1039.7L452.5,1038.5L454.1,1037.3L455.8,1036.2L457.4,1035.1L459.2,1034.0L460.9,1033.1L462.7,1032.2L464.5,1031.4L466.4,1030.6L468.2,1029.9L470.1,1029.2L472.0,1028.5L473.9,1027.8L475.7,1027.1L477.6,1026.3L479.5,1025.6L481.4,1025.1L483.3,1024.7L485.2,1024.4L487.2,1024.4L489.2,1024.5L491.2,1024.8L493.2,1025.2L495.1,1025.6L497.0,1026.1L498.9,1026.7L500.8,1027.4L502.6,1028.2L504.4,1029.1L506.2,1030.1L507.9,1031.1L509.5,1032.2L511.1,1033.4L512.7,1034.6L514.3,1035.9L515.8,1037.2L517.3,1038.5L518.8,1039.9L520.2,1041.3L521.6,1042.7L523.0,1044.1L524.4,1045.6L525.8,1047.0L527.2,1048.4L528.6,1049.8L530.0,1051.2L531.5,1052.6L533.0,1053.9L534.5,1055.3L535.9,1056.6L537.5,1057.9L539.0,1059.1L540.6,1060.4L542.3,1061.5L544.0,1062.5L545.7,1063.5L547.5,1064.3L549.4,1065.1L551.2,1065.8L553.1,1066.5L554.9,1067.3L556.8,1068.1L558.6,1068.9L560.4,1069.8L562.1,1070.8L563.8,1071.9L565.5,1072.9L567.1,1074.0L568.8,1075.2L570.5,1076.3L572.1,1077.4L573.8,1078.4L575.5,1079.5L577.3,1080.5L579.0,1081.5L580.7,1082.5L582.5,1083.4L584.3,1084.4L586.0,1085.3L587.8,1086.3L589.5,1087.3L591.2,1088.3L593.0,1089.3L594.6,1090.4L596.3,1091.5L598.0,1092.6L599.6,1093.7L601.2,1094.9L602.9,1096.1L604.5,1097.3L606.1,1098.4L607.7,1099.6L609.3,1100.8L610.9,1102.0L612.5,1103.2L614.1,1104.4L615.7,1105.6L617.3,1106.9L618.9,1108.1L620.5,1109.2L622.1,1110.4L623.8,1111.5L625.5,1112.5L627.2,1113.5L629.0,1114.5L630.8,1115.4L632.6,1116.3L634.4,1117.1L636.2,1117.9L638.1,1118.6L640.0,1119.3L641.9,1119.8L643.8,1120.2L645.8,1120.5L647.8,1120.6L649.7,1120.5L651.7,1120.3L653.7,1119.9L655.6,1119.5L657.6,1119.2L659.6,1118.9L661.6,1118.6L663.6,1118.5L665.5,1118.3L667.5,1118.2L669.5,1118.0L671.5,1117.8L673.5,1117.5L675.4,1117.0L677.3,1116.3L679.1,1115.6L681.0,1114.9L682.9,1114.3L684.8,1113.8L686.8,1113.4L688.7,1113.0L690.7,1112.7L692.7,1112.4L694.7,1112.1L696.6,1111.8L698.6,1111.5L700.6,1111.1L702.6,1110.8L704.5,1110.4L706.5,1110.1L708.5,1109.8L710.5,1109.6L712.5,1109.4L714.5,1109.2L716.4,1109.1L718.4,1109.0L720.4,1108.9L722.4,1108.8L724.4,1108.7L726.4,1108.5L728.4,1108.3L730.4,1108.1L732.4,1107.8L734.3,1107.4L736.3,1107.0L738.3,1106.7L740.2,1106.3L742.2,1105.9L744.2,1105.5L746.1,1105.2L748.1,1104.9L750.1,1104.6L752.1,1104.4L754.1,1104.2L756.1,1104.0L758.0,1103.8L760.0,1103.6L762.0,1103.4L764.0,1103.2L766.0,1103.0L768.0,1102.7L770.0,1102.5L772.0,1102.3L773.9,1102.0L775.9,1101.7L777.9,1101.5L779.9,1101.2L781.9,1101.0L783.9,1100.8L785.9,1100.6L787.9,1100.4L789.9,1100.3L791.9,1100.2L793.9,1100.1L795.9,1100.1L797.9,1100.0L799.9,1100.0L801.9,1100.0L803.9,1100.0L805.9,1100.0L807.9,1099.9L809.9,1099.9L811.8,1099.8L813.8,1099.7L815.8,1099.6L817.8,1099.4L819.8,1099.3L821.8,1099.1L823.8,1098.9L825.8,1098.8L827.8,1098.6L829.8,1098.4L831.8,1098.3L833.8,1098.1L835.8,1098.0L837.8,1097.9L839.8,1097.8L841.8,1097.7L843.8,1097.7L845.8,1097.6L847.8,1097.4L849.8,1097.3L851.7,1097.0L853.7,1096.6L855.6,1096.1L857.5,1095.5L859.4,1094.7L861.2,1093.9L863.0,1093.1L864.8,1092.3L866.7,1091.5L868.5,1090.8L870.4,1090.1L872.3,1089.4L874.2,1088.8L876.1,1088.2L878.0,1087.5L879.8,1086.8L881.7,1086.0L883.5,1085.2L885.3,1084.3L886.9,1083.2L888.6,1082.1L890.2,1080.8L891.7,1079.5L893.1,1078.2L894.6,1076.8L896.0,1075.4L897.3,1073.9L898.7,1072.4L900.0,1070.9L901.3,1069.4L902.6,1067.9L903.8,1066.3L905.0,1064.7L906.2,1063.1L907.4,1061.5L908.6,1059.9L909.8,1058.3L911.1,1056.7L912.3,1055.2L913.6,1053.6L914.9,1052.1L916.1,1050.6L917.4,1049.0L918.7,1047.5L920.0,1046.0L921.3,1044.4L922.5,1042.8L923.6,1041.2L924.6,1039.5L925.6,1037.8L926.4,1036.0L927.3,1034.1L928.1,1032.3L929.0,1030.5L929.8,1028.7L930.6,1026.9L931.4,1025.0L932.2,1023.2L933.0,1021.4L933.8,1019.5L934.6,1017.7L935.4,1015.9L936.2,1014.0L937.0,1012.2L937.7,1010.3L938.4,1008.5L939.2,1006.6L939.9,1004.7L940.6,1002.9L941.3,1001.0L942.1,999.1L942.8,997.3L943.5,995.4L944.3,993.6L945.1,991.7L945.8,989.9L946.6,988.0L947.4,986.2L948.2,984.4L949.1,982.6L949.9,980.7L950.7,978.9L951.5,977.1L952.2,975.2L953.0,973.4L953.7,971.5L954.4,969.6L955.1,967.8L955.8,965.9L956.5,964.0L957.1,962.1L957.7,960.2L958.3,958.3L958.9,956.4L959.5,954.5L960.1,952.5L960.7,950.6L961.3,948.7L961.9,946.8L962.5,944.9L963.1,943.0L963.6,941.1L964.2,939.2L964.8,937.2L965.4,935.3L965.9,933.4L966.5,931.5L967.1,929.6L967.6,927.7L968.2,925.7L968.8,923.8L969.4,921.9L969.9,920.0L970.5,918.1L971.0,916.1L971.6,914.2L972.2,912.3L972.7,910.4L973.3,908.5L973.9,906.6L974.5,904.7L975.1,902.7L975.7,900.8L976.3,898.9L977.0,897.0L977.6,895.2L978.3,893.3L978.9,891.4L979.6,889.5L980.3,887.6L980.9,885.7L981.6,883.8L982.3,881.9L983.0,880.1L983.6,878.2L984.3,876.3L985.0,874.4L985.7,872.6L986.4,870.7L987.1,868.8L987.8,866.9L988.5,865.1L989.3,863.2L990.0,861.3L990.7,859.5L991.4,857.6L992.1,855.7L992.7,853.8L993.4,851.9L994.1,850.1L994.8,848.2L995.4,846.3L996.1,844.4L996.9,842.6L997.6,840.7L998.5,838.9L999.4,837.2L1000.5,835.5L1001.7,833.9L1002.9,832.4L1004.4,831.0L1005.9,829.8L1007.6,828.8L1009.4,828.0L1011.3,827.4L1013.1,827.3L1014.9,827.5L1016.6,828.3L1018.2,829.4L1019.7,830.7L1021.0,832.2L1022.2,833.8L1023.3,835.4L1024.4,837.1L1025.4,838.9L1026.3,840.6L1027.3,842.4L1028.2,844.1L1029.1,845.9L1029.9,847.7L1030.6,849.6L1031.2,851.5L1031.7,853.4L1032.2,855.4L1032.6,857.3L1033.0,859.3L1033.4,861.2L1033.8,863.2L1034.2,865.2L1034.5,867.1L1034.9,869.1L1035.3,871.1L1035.6,873.0L1036.0,875.0L1036.3,877.0L1036.7,879.0L1037.0,880.9L1037.4,882.9L1037.7,884.9L1038.0,886.8L1038.4,888.8L1038.7,890.8L1039.0,892.8L1039.4,894.7L1039.7,896.7L1040.0,898.7L1040.4,900.6L1040.7,902.6L1041.1,904.6L1041.4,906.6L1041.8,908.5L1042.1,910.5L1042.4,912.5L1042.8,914.4L1043.2,916.4L1043.5,918.4L1043.9,920.3L1044.3,922.3L1044.7,924.3L1045.1,926.2L1045.5,928.2L1045.8,930.1L1046.2,932.1L1046.6,934.1L1047.0,936.0L1047.4,938.0L1047.8,940.0L1048.2,941.9L1048.5,943.9L1048.9,945.9L1049.2,947.8L1049.5,949.8L1049.9,951.8L1050.2,953.7L1050.6,955.7L1050.9,957.7L1051.3,959.7L1051.6,961.6L1052.0,963.6L1052.4,965.5L1052.8,967.5L1053.2,969.5L1053.6,971.4L1054.1,973.4L1054.5,975.3L1055.0,977.3L1055.4,979.2L1055.9,981.2L1056.3,983.1L1056.8,985.1L1057.3,987.0L1057.7,989.0L1058.2,990.9L1058.7,992.8L1059.2,994.8L1059.7,996.7L1060.2,998.6L1060.7,1000.6L1061.2,1002.5L1061.7,1004.5L1062.2,1006.4L1062.7,1008.3L1063.2,1010.3L1063.7,1012.2L1064.2,1014.1L1064.7,1016.1L1065.2,1018.0L1065.7,1020.0L1066.2,1021.9L1066.7,1023.8L1067.2,1025.8L1067.7,1027.7L1068.2,1029.6L1068.7,1031.6L1069.2,1033.5L1069.7,1035.4L1070.2,1037.4L1070.7,1039.3L1071.1,1041.3L1071.6,1043.2L1072.1,1045.1L1072.6,1047.1L1073.1,1049.0L1073.6,1051.0L1074.1,1052.9L1074.6,1054.8L1075.2,1056.8L1075.7,1058.7L1076.3,1060.6L1076.8,1062.5L1077.4,1064.4L1078.1,1066.3L1078.7,1068.2L1079.3,1070.1L1080.0,1072.0L1080.7,1073.9L1081.3,1075.8L1082.0,1077.7L1082.7,1079.5L1083.5,1081.4L1084.2,1083.2L1085.0,1085.1L1085.7,1086.9L1086.5,1088.8L1087.3,1090.6L1088.1,1092.5L1088.9,1094.3L1089.8,1096.1L1090.6,1097.9L1091.5,1099.7L1092.4,1101.5L1093.2,1103.3L1094.1,1105.1L1095.1,1106.9L1096.0,1108.6L1097.0,1110.4L1098.0,1112.1L1099.0,1113.8L1100.0,1115.6L1101.0,1117.3L1102.1,1118.9L1103.2,1120.6L1104.4,1122.2L1105.6,1123.9L1106.8,1125.5L1108.0,1127.0L1109.2,1128.6L1110.5,1130.1L1111.9,1131.6L1113.2,1133.1L1114.6,1134.5L1116.1,1135.9L1117.5,1137.3L1119.0,1138.6L1120.6,1139.9L1122.1,1141.1L1123.7,1142.4L1125.3,1143.6L1126.9,1144.7L1128.5,1145.9L1130.2,1147.0L1131.9,1148.1L1133.6,1149.2L1135.3,1150.2L1137.0,1151.1L1138.8,1152.1L1140.6,1152.9L1142.4,1153.7L1144.3,1154.4L1146.2,1155.0L1148.1,1155.5L1150.1,1156.0L1152.1,1156.3L1154.0,1156.6L1156.0,1156.8L1158.0,1157.0L1160.0,1157.2L1162.0,1157.4L1164.0,1157.5L1166.0,1157.6L1168.0,1157.7L1170.0,1157.8L1172.0,1157.9L1174.0,1157.9L1176.0,1157.9L1178.0,1157.9L1180.0,1157.8L1182.0,1157.8L1184.0,1157.8L1186.0,1157.7L1188.0,1157.7L1190.0,1157.6L1192.0,1157.6L1194.0,1157.6L1196.0,1157.6L1198.0,1157.5L1200.0,1157.5L1202.0,1157.4L1204.0,1157.4L1206.0,1157.3L1208.0,1157.3L1210.0,1157.2L1212.0,1157.2L1214.0,1157.2L1216.0,1157.1L1218.0,1157.1L1220.0,1157.1L1222.0,1157.1L1224.0,1157.2L1226.0,1157.3L1228.0,1157.3L1230.0,1157.4L1232.0,1157.5L1234.0,1157.6L1236.0,1157.7L1238.0,1157.8L1240.0,1157.8L1242.0,1157.8L1244.0,1157.7L1246.0,1157.5L1247.9,1157.3L1249.9,1157.0L1251.9,1156.7L1253.9,1156.3L1255.8,1155.9L1257.8,1155.4L1259.7,1155.0L1261.6,1154.5L1263.6,1154.0L1265.5,1153.4L1267.4,1152.9L1269.4,1152.4L1271.3,1151.8L1273.2,1151.2L1275.1,1150.6L1277.0,1150.0L1278.9,1149.3L1280.7,1148.6L1282.6,1147.9L1284.5,1147.2L1286.4,1146.5L1288.2,1145.8L1290.1,1145.1L1292.0,1144.4L1293.8,1143.6L1295.6,1142.7L1297.3,1141.7L1299.0,1140.7L1300.7,1139.6L1302.3,1138.4L1303.9,1137.2L1305.5,1136.0L1307.1,1134.8L1308.6,1133.5L1310.2,1132.2L1311.7,1130.9L1313.2,1129.6L1314.7,1128.3L1316.2,1126.9L1317.6,1125.6L1319.1,1124.2L1320.4,1122.7L1321.8,1121.2L1323.1,1119.8L1324.5,1118.3L1325.8,1116.7L1327.1,1115.2L1328.3,1113.7L1329.6,1112.1L1330.9,1110.6L1332.2,1109.0L1333.4,1107.5L1334.7,1105.9L1335.9,1104.4L1337.1,1102.8L1338.4,1101.2L1339.6,1099.6L1340.8,1098.0L1342.0,1096.4L1343.1,1094.8L1344.3,1093.1L1345.4,1091.5L1346.5,1089.8L1347.7,1088.2L1348.8,1086.5L1349.8,1084.8L1350.9,1083.1L1352.0,1081.5L1353.0,1079.8L1354.1,1078.0L1355.1,1076.3L1356.2,1074.6L1357.2,1072.9L1358.2,1071.2L1359.2,1069.5L1360.2,1067.7L1361.2,1066.0L1362.2,1064.2L1363.1,1062.5L1364.1,1060.7L1365.0,1059.0L1366.0,1057.2L1366.9,1055.4L1367.8,1053.7L1368.8,1051.9L1369.7,1050.1L1370.6,1048.3L1371.6,1046.6L1372.5,1044.8L1373.4,1043.0L1374.3,1041.2L1375.2,1039.5L1376.1,1037.7L1377.0,1035.9L1377.8,1034.1L1378.7,1032.3L1379.6,1030.5L1380.4,1028.6L1381.2,1026.8L1382.0,1025.0L1382.8,1023.1L1383.6,1021.3L1384.3,1019.4L1385.1,1017.6L1385.8,1015.7L1386.6,1013.9L1387.3,1012.0L1388.0,1010.1L1388.7,1008.3L1389.4,1006.4L1390.1,1004.5L1390.8,1002.6L1391.5,1000.8L1392.2,998.9L1392.9,997.0L1393.5,995.1L1394.2,993.2L1394.9,991.3L1395.5,989.5L1396.1,987.6L1396.7,985.7L1397.4,983.7L1397.9,981.8L1398.5,979.9L1399.1,978.0L1399.6,976.1L1400.1,974.1L1400.7,972.2L1401.2,970.3L1401.7,968.3L1402.2,966.4L1402.7,964.5L1403.3,962.6L1403.9,960.6L1404.5,958.8L1405.2,956.9L1406.0,955.0L1406.8,953.2L1407.5,951.3L1408.2,949.5L1408.8,947.6L1409.5,945.7L1410.1,943.8L1410.7,941.9L1411.3,940.0L1411.9,938.1L1412.5,936.2L1413.1,934.3L1413.8,932.4L1414.4,930.5L1415.0,928.6L1415.6,926.7L1416.3,924.8L1416.9,922.9L1417.5,921.0L1418.2,919.1L1418.8,917.2L1419.4,915.3L1420.1,913.4L1420.8,911.5L1421.5,909.6L1422.2,907.8L1422.9,905.9L1423.7,904.1L1424.5,902.2L1425.4,900.4L1426.3,898.6L1427.2,896.9L1428.1,895.1L1429.1,893.3L1430.1,891.6L1431.2,890.0L1432.5,888.4L1433.8,887.1L1435.4,886.0L1437.1,885.3L1439.0,885.0L1440.8,885.2L1442.5,885.9L1444.1,887.0L1445.4,888.4L1446.6,889.9L1447.6,891.6L1448.5,893.4L1449.4,895.2L1450.2,897.0L1451.0,898.9L1451.8,900.7L1452.6,902.6L1453.3,904.4L1454.0,906.3L1454.7,908.2L1455.4,910.1L1456.0,911.9L1456.6,913.8L1457.3,915.7L1457.9,917.7L1458.5,919.6L1459.1,921.5L1459.7,923.4L1460.3,925.3L1460.9,927.2L1461.4,929.1L1462.0,931.0L1462.6,932.9L1463.2,934.8L1463.8,936.8L1464.4,938.7L1464.9,940.6L1465.5,942.5L1466.1,944.4L1466.6,946.3L1467.2,948.3L1467.7,950.2L1468.3,952.1L1468.8,954.0L1469.4,956.0L1469.9,957.9L1470.5,959.8L1471.0,961.8L1471.5,963.7L1472.0,965.6L1472.5,967.5L1473.1,969.5L1473.6,971.4L1474.1,973.3L1474.6,975.3L1475.1,977.2L1475.6,979.2L1476.0,981.1L1476.5,983.0L1477.0,985.0L1477.5,986.9L1478.0,988.9L1478.5,990.8L1478.9,992.7L1479.4,994.7L1479.9,996.6L1480.4,998.6L1480.9,1000.5L1481.5,1002.4L1482.0,1004.4L1482.5,1006.3L1483.0,1008.2L1483.5,1010.2L1484.0,1012.1L1484.6,1014.0L1485.2,1015.9L1485.8,1017.8L1486.4,1019.7L1487.1,1021.6L1487.9,1023.4L1488.7,1025.3L1489.4,1027.1L1490.1,1029.0L1490.8,1030.9L1491.3,1032.8L1491.8,1034.7L1492.3,1036.7L1492.8,1038.6L1493.3,1040.6L1493.7,1042.5L1494.2,1044.5L1494.6,1046.4L1495.1,1048.4L1495.6,1050.3L1496.1,1052.2L1496.6,1054.2L1497.2,1056.1L1497.8,1058.0L1498.3,1059.9L1498.9,1061.8L1499.5,1063.7L1500.1,1065.6L1500.8,1067.5L1501.4,1069.4L1502.1,1071.3L1502.7,1073.2L1503.4,1075.1L1504.1,1076.9L1504.9,1078.8L1505.6,1080.7L1506.4,1082.5L1507.1,1084.4L1507.9,1086.2L1508.7,1088.0L1509.5,1089.9L1510.3,1091.7L1511.1,1093.5L1512.0,1095.4L1512.8,1097.2L1513.6,1099.0L1514.4,1100.8L1515.2,1102.7L1516.1,1104.5L1516.9,1106.3L1517.7,1108.1L1518.5,1109.9L1519.4,1111.8L1520.2,1113.6L1521.1,1115.4L1522.0,1117.2L1522.9,1118.9L1523.8,1120.7L1524.8,1122.5L1525.8,1124.2L1526.9,1125.9L1528.0,1127.5L1529.2,1129.1L1530.4,1130.7L1531.7,1132.2L1533.1,1133.6L1534.5,1135.1L1536.0,1136.4L1537.5,1137.8L1539.0,1139.1L1540.5,1140.4L1541.9,1141.8L1543.4,1143.1L1544.8,1144.5L1546.2,1146.0L1547.5,1147.5L1548.9,1149.0L1550.2,1150.5L1551.5,1152.0L1552.9,1153.4L1554.3,1154.8L1555.7,1156.2L1557.2,1157.5L1558.7,1158.9L1560.3,1160.1L1561.8,1161.4L1563.4,1162.6L1565.0,1163.8L1566.7,1164.9L1568.4,1166.0L1570.1,1167.0L1571.9,1167.9L1573.6,1168.8L1575.5,1169.6L1577.3,1170.4L1579.2,1171.2L1581.0,1171.9L1582.9,1172.6L1584.8,1173.3L1586.6,1174.1L1588.5,1174.8L1590.3,1175.6L1592.2,1176.3L1594.0,1177.1L1595.9,1177.8L1597.7,1178.6L1599.6,1179.4L1601.4,1180.1L1603.3,1180.8L1605.2,1181.6L1607.0,1182.3L1608.9,1183.0L1610.8,1183.7L1612.7,1184.3L1614.6,1184.9L1616.5,1185.5L1618.4,1186.1L1620.3,1186.6L1622.3,1187.1L1624.2,1187.6L1626.2,1188.0L1628.1,1188.4L1630.1,1188.9L1632.0,1189.3L1634.0,1189.8L1635.9,1190.2L1637.9,1190.7L1639.8,1191.2L1641.7,1191.7L1643.7,1192.2L1645.6,1192.7L1647.5,1193.2L1649.5,1193.7L1651.4,1194.3L1653.3,1194.8L1655.3,1195.3L1657.2,1195.9L1659.1,1196.5L1661.0,1197.1L1662.9,1197.8L1664.8,1198.4L1666.6,1199.1L1668.5,1199.8L1670.4,1200.5L1672.3,1201.3L1674.1,1202.0L1676.0,1202.7L1677.8,1203.4L1679.7,1204.2L1681.6,1204.9L1683.5,1205.6L1685.3,1206.3L1687.2,1206.9L1689.1,1207.6L1691.0,1208.3L1692.9,1208.9L1694.8,1209.6L1696.6,1210.3L1698.5,1210.9L1700.4,1211.6L1702.3,1212.2L1704.2,1212.9L1706.1,1213.6L1708.0,1214.2L1709.9,1214.9L1711.7,1215.6L1713.6,1216.2L1715.5,1216.9L1717.4,1217.5L1719.3,1218.2L1721.2,1218.9L1723.1,1219.5L1725.0,1220.2L1726.8,1220.9L1728.7,1221.5L1730.6,1222.2L1732.5,1222.9L1734.4,1223.5L1736.3,1224.2L1738.1,1224.9L1740.0,1225.6L1741.9,1226.2L1743.8,1226.9L1745.7,1227.6L1747.6,1228.2L1749.5,1228.8L1751.4,1229.4L1753.3,1230.0L1755.2,1230.5L1757.2,1231.1L1759.1,1231.6L1761.0,1232.1L1763.0,1232.6L1764.9,1233.1L1766.9,1233.6L1768.8,1234.0L1770.7,1234.5L1772.7,1234.9L1774.6,1235.4L1776.6,1235.8L1778.6,1236.2L1780.5,1236.6L1782.5,1237.0L1784.4,1237.4L1786.4,1237.8L1788.4,1238.2L1790.3,1238.6L1792.3,1239.0L1794.2,1239.4L1796.2,1239.8L1798.1,1240.3L1800.1,1240.7L1802.0,1241.2L1804.0,1241.7L1805.9,1242.3L1807.8,1242.8L1809.8,1243.3L1811.7,1243.8L1813.6,1244.3L1815.6,1244.7L1817.5,1245.2L1819.5,1245.6L1821.4,1246.0L1823.4,1246.3L1825.4,1246.6L1827.4,1246.9L1829.4,1247.2L1831.3,1247.4L1833.3,1247.6L1835.3,1247.8L1837.3,1248.0L1839.3,1248.2L1841.3,1248.3L1843.3,1248.5L1845.3,1248.7L1847.3,1249.0L1849.3,1249.2L1851.2,1249.4L1853.2,1249.7L1855.2,1249.9L1857.2,1250.2L1859.2,1250.4L1861.2,1250.7L1863.2,1250.9L1865.1,1251.2L1867.1,1251.4L1869.1,1251.6L1871.1,1251.8L1873.1,1252.0L1875.1,1252.2L1877.1,1252.3L1879.1,1252.5L1881.1,1252.6L1883.1,1252.7L1885.1,1252.9L1887.1,1253.0L1889.1,1253.1L1891.1,1253.2L1893.1,1253.4L1895.0,1253.5L1897.0,1253.6L1899.0,1253.7L1901.0,1253.9L1903.0,1254.0L1905.0,1254.2L1907.0,1254.3L1909.0,1254.4L1911.0,1254.6L1913.0,1254.7L1915.0,1254.8L1917.0,1255.0L1919.0,1255.1L1921.0,1255.2L1923.0,1255.4L1925.0,1255.5L1927.0,1255.6L1929.0,1255.8L1931.0,1255.9L1933.0,1256.0L1935.0,1256.2L1937.0,1256.3L1939.0,1256.4L1941.0,1256.6L1943.0,1256.7L1944.9,1256.8L1946.9,1256.9L1948.9,1257.0L1950.9,1257.1L1952.9,1257.1L1954.9,1257.2L1956.9,1257.3L1958.9,1257.4L1960.9,1257.4L1962.9,1257.5L1964.9,1257.6L1966.9,1257.6L1968.9,1257.7L1970.9,1257.8L1972.9,1257.8L1974.9,1257.9L1976.9,1258.0L1978.9,1258.1L1980.9,1258.1L1982.9,1258.2L1984.9,1258.3L1986.9,1258.4L1988.9,1258.5L1990.9,1258.6L1992.9,1258.7L1994.9,1258.8L1996.9,1258.9L1998.9,1259.0L2000.9,1259.2L2002.9,1259.3L2004.9,1259.5L2006.9,1259.6L2008.9,1259.8L2010.9,1260.0L2012.9,1260.2L2014.9,1260.4L2016.8,1260.5L2018.8,1260.8L2020.8,1261.0L2022.8,1261.2L2024.8,1261.4L2026.8,1261.6L2028.8,1261.9L2030.8,1262.1L2032.8,1262.3L2034.7,1262.6L2036.7,1262.8L2038.7,1263.1L2040.7,1263.3L2042.7,1263.6L2044.7,1263.8L2046.6,1264.1L2048.6,1264.3L2050.6,1264.6L2052.6,1264.8L2054.5,1265.1L2056.4,1265.4L2057.9,1265.6L2058.8,1265.8" stroke="#ff0000" stroke-width="4.5"/>
</g>
<g clip-path="url(#cb)">
<path d="M278.5,2064.1L279.0,2065.3L279.6,2066.8L280.4,2068.5L281.1,2070.4L281.9,2072.2L282.7,2074.0L283.7,2075.8L284.8,2077.4L286.0,2079.0L287.3,2080.5L288.7,2081.9L290.2,2083.2L291.8,2084.4L293.5,2085.4L295.2,2086.3L297.1,2086.9L299.0,2087.3L301.0,2087.4L302.9,2087.3L304.9,2087.0L306.8,2086.4L308.7,2085.7L310.5,2084.9L312.2,2083.9L313.9,2082.9L315.5,2081.8L317.2,2080.6L318.8,2079.4L320.4,2078.2L321.9,2077.0L323.4,2075.6L324.9,2074.3L326.3,2072.9L327.6,2071.4L328.9,2069.9L330.2,2068.3L331.5,2066.8L332.7,2065.2L333.9,2063.6L335.1,2062.0L336.4,2060.4L337.6,2058.8L338.8,2057.3L340.0,2055.7L341.2,2054.1L342.5,2052.5L343.7,2050.9L344.9,2049.3L346.1,2047.7L347.3,2046.1L348.5,2044.6L349.7,2043.0L351.0,2041.4L352.2,2039.8L353.4,2038.2L354.7,2036.7L355.9,2035.1L357.1,2033.5L358.2,2031.8L359.3,2030.2L360.4,2028.5L361.4,2026.8L362.4,2025.0L363.3,2023.2L364.1,2021.4L364.8,2019.5L365.5,2017.7L366.1,2015.8L366.8,2013.9L367.4,2012.0L368.0,2010.1L368.6,2008.2L369.2,2006.2L369.8,2004.3L370.4,2002.4L371.1,2000.6L371.8,1998.7L372.8,1997.0L373.8,1995.3L375.1,1993.9L376.6,1992.7L378.3,1991.9L380.1,1991.3L382.0,1990.8L383.9,1990.2L385.7,1989.4L387.4,1988.5L389.1,1987.4L390.6,1986.1L392.0,1984.7L393.3,1983.2L394.5,1981.6L395.8,1980.1L397.0,1978.5L398.2,1976.9L399.4,1975.3L400.7,1973.8L401.9,1972.2L403.1,1970.6L404.3,1969.0L405.5,1967.3L406.5,1965.7L407.6,1964.0L408.6,1962.3L409.7,1960.5L410.7,1958.9L411.8,1957.2L412.9,1955.5L414.0,1953.9L415.2,1952.2L416.3,1950.6L417.4,1948.9L418.6,1947.3L419.7,1945.6L420.9,1944.0L422.0,1942.3L423.1,1940.7L424.3,1939.0L425.4,1937.4L426.5,1935.7L427.6,1934.1L428.8,1932.4L429.9,1930.8L431.0,1929.1L432.2,1927.5L433.3,1925.9L434.5,1924.2L435.7,1922.6L436.9,1921.0L438.1,1919.4L439.2,1917.8L440.5,1916.2L441.7,1914.6L442.9,1913.0L444.2,1911.5L445.5,1910.0L446.8,1908.5L448.2,1907.0L449.5,1905.6L451.0,1904.2L452.4,1902.8L453.9,1901.4L455.4,1900.1L456.9,1898.8L458.5,1897.6L460.1,1896.4L461.7,1895.2L463.3,1894.1L465.0,1893.0L466.8,1892.0L468.5,1891.1L470.4,1890.3L472.2,1889.7L474.2,1889.1L476.1,1888.7L478.1,1888.3L480.0,1888.1L482.0,1887.9L484.0,1887.8L486.0,1887.9L488.0,1888.2L489.9,1888.6L491.8,1889.2L493.7,1889.9L495.4,1890.7L497.1,1891.8L498.7,1892.9L500.3,1894.2L501.7,1895.6L503.1,1897.0L504.4,1898.5L505.7,1900.0L507.0,1901.6L508.2,1903.1L509.4,1904.7L510.6,1906.3L511.8,1908.0L512.9,1909.6L514.0,1911.3L515.1,1913.0L516.2,1914.6L517.3,1916.3L518.4,1918.0L519.5,1919.6L520.7,1921.3L521.8,1922.9L523.0,1924.5L524.2,1926.1L525.4,1927.7L526.6,1929.3L527.8,1930.9L529.0,1932.5L530.3,1934.1L531.6,1935.6L532.8,1937.2L534.1,1938.7L535.4,1940.2L536.7,1941.7L538.1,1943.2L539.4,1944.7L540.8,1946.2L542.2,1947.6L543.6,1949.0L545.0,1950.4L546.5,1951.8L548.0,1953.1L549.5,1954.4L551.0,1955.7L552.5,1956.9L554.1,1958.2L555.7,1959.4L557.3,1960.6L558.9,1961.8L560.6,1962.9L562.2,1964.0L563.9,1965.2L565.5,1966.3L567.1,1967.5L568.8,1968.6L570.4,1969.8L572.0,1971.0L573.6,1972.2L575.2,1973.4L576.8,1974.6L578.4,1975.8L579.9,1977.1L581.5,1978.3L583.0,1979.6L584.6,1980.9L586.1,1982.2L587.6,1983.5L589.1,1984.8L590.6,1986.1L592.1,1987.4L593.6,1988.8L595.0,1990.2L596.5,1991.5L597.9,1992.9L599.3,1994.4L600.8,1995.8L602.2,1997.2L603.5,1998.6L604.9,2000.1L606.3,2001.6L607.6,2003.0L608.9,2004.5L610.3,2006.0L611.6,2007.5L612.9,2009.0L614.2,2010.6L615.5,2012.1L616.7,2013.7L618.0,2015.2L619.3,2016.8L620.5,2018.3L621.8,2019.8L623.2,2021.3L624.6,2022.8L626.0,2024.2L627.4,2025.5L628.9,2026.9L630.4,2028.1L632.0,2029.4L633.6,2030.5L635.3,2031.6L637.1,2032.6L638.9,2033.4L640.7,2034.1L642.6,2034.7L644.6,2035.2L646.5,2035.6L648.5,2035.9L650.5,2036.0L652.5,2036.0L654.4,2036.0L656.4,2035.7L658.4,2035.4L660.3,2034.9L662.2,2034.4L664.1,2033.7L666.0,2033.0L667.8,2032.2L669.7,2031.4L671.5,2030.6L673.3,2029.7L675.1,2028.8L676.9,2027.9L678.6,2027.0L680.4,2026.2L682.3,2025.3L684.1,2024.5L685.9,2023.7L687.8,2022.9L689.6,2022.2L691.5,2021.5L693.4,2020.8L695.2,2020.1L697.2,2019.5L699.1,2019.0L701.0,2018.5L702.9,2018.0L704.9,2017.5L706.9,2017.1L708.8,2016.7L710.8,2016.4L712.8,2016.1L714.7,2015.8L716.7,2015.5L718.7,2015.2L720.7,2014.9L722.6,2014.6L724.6,2014.3L726.6,2014.0L728.6,2013.6L730.5,2013.3L732.5,2012.9L734.5,2012.5L736.4,2012.1L738.4,2011.7L740.3,2011.2L742.3,2010.7L744.2,2010.2L746.1,2009.6L748.0,2009.0L749.9,2008.4L751.8,2007.9L753.8,2007.3L755.7,2006.7L757.6,2006.2L759.5,2005.6L761.4,2004.9L763.3,2004.2L765.1,2003.5L767.0,2002.7L768.8,2001.8L770.6,2001.0L772.4,2000.2L774.2,1999.4L776.1,1998.5L777.9,1997.7L779.7,1997.0L781.6,1996.2L783.5,1995.6L785.4,1994.9L787.3,1994.4L789.2,1993.9L791.2,1993.4L793.1,1992.9L795.1,1992.5L797.0,1992.1L799.0,1991.7L800.9,1991.2L802.9,1990.8L804.8,1990.5L806.8,1990.1L808.8,1989.7L810.7,1989.3L812.7,1988.9L814.6,1988.4L816.5,1987.8L818.4,1987.1L820.2,1986.3L822.1,1985.6L823.9,1984.8L825.8,1984.0L827.6,1983.2L829.5,1982.5L831.3,1981.7L833.1,1980.8L834.9,1979.9L836.6,1978.9L838.2,1977.8L839.9,1976.6L841.4,1975.4L843.0,1974.1L844.5,1972.8L846.0,1971.5L847.5,1970.2L849.0,1968.9L850.5,1967.5L851.9,1966.1L853.3,1964.7L854.7,1963.2L856.0,1961.7L857.3,1960.2L858.6,1958.7L859.9,1957.1L861.1,1955.6L862.3,1954.0L863.5,1952.4L864.7,1950.8L865.8,1949.1L867.0,1947.5L868.1,1945.8L869.2,1944.1L870.3,1942.4L871.4,1940.8L872.5,1939.1L873.5,1937.4L874.6,1935.8L875.7,1934.1L876.8,1932.4L877.9,1930.7L879.1,1929.1L880.2,1927.5L881.4,1925.9L882.6,1924.3L883.9,1922.7L885.2,1921.2L886.5,1919.7L887.8,1918.2L889.2,1916.7L890.6,1915.3L892.1,1914.0L893.6,1912.7L895.2,1911.5L896.9,1910.5L898.7,1909.6L900.4,1908.7L902.2,1907.8L904.0,1906.8L905.6,1905.7L907.2,1904.5L908.7,1903.2L910.2,1901.9L911.6,1900.5L913.0,1899.0L914.2,1897.4L915.4,1895.8L916.5,1894.2L917.5,1892.4L918.4,1890.7L919.3,1888.9L920.1,1887.1L921.0,1885.2L921.7,1883.4L922.5,1881.6L923.3,1879.7L924.1,1877.9L924.8,1876.0L925.6,1874.2L926.3,1872.3L927.0,1870.4L927.7,1868.6L928.4,1866.7L929.1,1864.8L929.8,1862.9L930.4,1861.0L931.1,1859.1L931.8,1857.3L932.4,1855.4L933.1,1853.5L933.7,1851.6L934.4,1849.7L935.0,1847.8L935.7,1845.9L936.3,1844.0L937.0,1842.1L937.6,1840.2L938.3,1838.3L938.9,1836.4L939.5,1834.5L940.1,1832.6L940.7,1830.7L941.4,1828.8L942.0,1826.9L942.6,1825.0L943.2,1823.1L943.7,1821.2L944.3,1819.3L944.9,1817.4L945.4,1815.4L946.0,1813.5L946.5,1811.6L947.0,1809.6L947.5,1807.7L947.9,1805.8L948.4,1803.8L948.8,1801.9L949.2,1799.9L949.7,1797.9L950.1,1796.0L950.5,1794.0L950.9,1792.1L951.4,1790.1L951.8,1788.2L952.2,1786.2L952.7,1784.3L953.2,1782.3L953.7,1780.4L954.1,1778.5L954.6,1776.5L955.1,1774.6L955.5,1772.6L956.0,1770.7L956.5,1768.7L956.9,1766.8L957.3,1764.8L957.7,1762.9L958.1,1760.9L958.5,1758.9L958.9,1757.0L959.2,1755.0L959.6,1753.0L959.9,1751.1L960.3,1749.1L960.6,1747.1L961.0,1745.2L961.3,1743.2L961.6,1741.2L962.0,1739.2L962.3,1737.3L962.6,1735.3L963.0,1733.3L963.3,1731.3L963.6,1729.4L963.9,1727.4L964.2,1725.4L964.5,1723.5L964.9,1721.5L965.2,1719.5L965.6,1717.5L966.0,1715.6L966.3,1713.6L966.7,1711.7L967.1,1709.7L967.4,1707.7L967.8,1705.7L968.1,1703.8L968.5,1701.8L968.8,1699.8L969.2,1697.9L969.5,1695.9L969.9,1693.9L970.2,1692.0L970.5,1690.0L970.8,1688.0L971.1,1686.0L971.4,1684.1L971.7,1682.1L972.0,1680.1L972.3,1678.1L972.6,1676.1L972.9,1674.2L973.2,1672.2L973.5,1670.2L973.8,1668.2L974.1,1666.3L974.5,1664.3L974.8,1662.3L975.2,1660.4L975.6,1658.4L975.9,1656.4L976.3,1654.5L976.7,1652.5L977.1,1650.5L977.5,1648.6L977.9,1646.6L978.3,1644.6L978.6,1642.7L979.0,1640.7L979.4,1638.8L979.8,1636.8L980.2,1634.8L980.6,1632.9L981.0,1630.9L981.4,1629.0L981.8,1627.0L982.2,1625.0L982.5,1623.1L982.9,1621.1L983.2,1619.1L983.5,1617.2L983.9,1615.2L984.2,1613.2L984.5,1611.2L984.8,1609.3L985.1,1607.3L985.4,1605.3L985.8,1603.3L986.1,1601.4L986.4,1599.4L986.7,1597.4L987.1,1595.4L987.4,1593.5L987.8,1591.5L988.1,1589.5L988.5,1587.6L988.9,1585.6L989.3,1583.6L989.6,1581.7L990.1,1579.7L990.5,1577.8L990.8,1575.8L991.2,1573.8L991.6,1571.9L992.0,1569.9L992.4,1567.9L992.8,1566.0L993.1,1564.0L993.5,1562.1L993.9,1560.1L994.3,1558.1L994.7,1556.2L995.1,1554.2L995.5,1552.3L995.9,1550.3L996.4,1548.3L996.8,1546.4L997.2,1544.4L997.7,1542.5L998.2,1540.5L998.7,1538.6L999.2,1536.7L999.7,1534.8L1000.3,1532.8L1000.8,1530.9L1001.4,1529.0L1001.9,1527.1L1002.4,1525.1L1002.9,1523.2L1003.5,1521.3L1004.0,1519.4L1004.6,1517.4L1005.2,1515.5L1005.9,1513.6L1006.5,1511.8L1007.2,1509.9L1008.0,1508.0L1008.8,1506.2L1009.8,1504.5L1010.9,1503.0L1012.2,1501.9L1013.7,1501.3L1015.1,1501.6L1016.4,1502.6L1017.5,1504.1L1018.4,1505.8L1019.2,1507.6L1020.0,1509.4L1020.8,1511.3L1021.6,1513.1L1022.3,1515.0L1023.0,1516.8L1023.6,1518.7L1024.2,1520.6L1024.7,1522.6L1025.2,1524.5L1025.7,1526.5L1026.1,1528.4L1026.5,1530.4L1027.0,1532.3L1027.4,1534.3L1027.8,1536.2L1028.2,1538.2L1028.5,1540.2L1028.9,1542.1L1029.2,1544.1L1029.5,1546.1L1029.8,1548.1L1030.1,1550.0L1030.4,1552.0L1030.6,1554.0L1030.9,1556.0L1031.2,1558.0L1031.5,1559.9L1031.8,1561.9L1032.1,1563.9L1032.4,1565.9L1032.7,1567.8L1033.0,1569.8L1033.3,1571.8L1033.6,1573.8L1033.9,1575.8L1034.1,1577.7L1034.4,1579.7L1034.6,1581.7L1034.9,1583.7L1035.1,1585.7L1035.3,1587.7L1035.5,1589.7L1035.8,1591.7L1036.0,1593.6L1036.2,1595.6L1036.4,1597.6L1036.7,1599.6L1036.9,1601.6L1037.2,1603.6L1037.5,1605.5L1037.7,1607.5L1038.0,1609.5L1038.3,1611.5L1038.6,1613.5L1038.9,1615.4L1039.2,1617.4L1039.4,1619.4L1039.7,1621.4L1040.0,1623.4L1040.3,1625.4L1040.5,1627.3L1040.8,1629.3L1041.0,1631.3L1041.3,1633.3L1041.6,1635.3L1041.8,1637.3L1042.1,1639.2L1042.3,1641.2L1042.5,1643.2L1042.8,1645.2L1043.0,1647.2L1043.2,1649.2L1043.4,1651.2L1043.6,1653.2L1043.8,1655.1L1044.0,1657.1L1044.1,1659.1L1044.3,1661.1L1044.5,1663.1L1044.7,1665.1L1044.9,1667.1L1045.1,1669.1L1045.3,1671.1L1045.6,1673.1L1045.8,1675.0L1046.0,1677.0L1046.2,1679.0L1046.5,1681.0L1046.7,1683.0L1046.9,1685.0L1047.2,1687.0L1047.4,1689.0L1047.6,1690.9L1047.8,1692.9L1048.0,1694.9L1048.2,1696.9L1048.4,1698.9L1048.6,1700.9L1048.8,1702.9L1049.0,1704.9L1049.2,1706.9L1049.4,1708.8L1049.6,1710.8L1049.8,1712.8L1050.0,1714.8L1050.3,1716.8L1050.5,1718.8L1050.7,1720.8L1050.9,1722.8L1051.1,1724.8L1051.3,1726.8L1051.5,1728.7L1051.7,1730.7L1051.9,1732.7L1052.0,1734.7L1052.2,1736.7L1052.4,1738.7L1052.6,1740.7L1052.8,1742.7L1052.9,1744.7L1053.1,1746.7L1053.3,1748.7L1053.5,1750.6L1053.7,1752.6L1054.0,1754.6L1054.2,1756.6L1054.5,1758.6L1054.8,1760.6L1055.0,1762.6L1055.3,1764.5L1055.6,1766.5L1055.9,1768.5L1056.2,1770.5L1056.4,1772.5L1056.7,1774.4L1056.9,1776.4L1057.2,1778.4L1057.4,1780.4L1057.6,1782.4L1057.9,1784.4L1058.1,1786.4L1058.4,1788.3L1058.6,1790.3L1058.9,1792.3L1059.1,1794.3L1059.3,1796.3L1059.6,1798.3L1059.8,1800.3L1060.1,1802.2L1060.3,1804.2L1060.5,1806.2L1060.8,1808.2L1061.0,1810.2L1061.3,1812.2L1061.5,1814.1L1061.8,1816.1L1062.1,1818.1L1062.3,1820.1L1062.6,1822.1L1062.9,1824.1L1063.2,1826.0L1063.5,1828.0L1063.7,1830.0L1064.0,1832.0L1064.3,1834.0L1064.6,1835.9L1064.9,1837.9L1065.1,1839.9L1065.4,1841.9L1065.7,1843.9L1066.0,1845.8L1066.2,1847.8L1066.5,1849.8L1066.8,1851.8L1067.0,1853.8L1067.3,1855.7L1067.6,1857.7L1067.9,1859.7L1068.1,1861.7L1068.4,1863.7L1068.7,1865.6L1069.0,1867.6L1069.3,1869.6L1069.6,1871.6L1069.9,1873.6L1070.2,1875.5L1070.5,1877.5L1070.8,1879.5L1071.1,1881.5L1071.4,1883.4L1071.7,1885.4L1071.9,1887.4L1072.2,1889.4L1072.4,1891.4L1072.7,1893.4L1072.9,1895.4L1073.2,1897.3L1073.4,1899.3L1073.7,1901.3L1073.9,1903.3L1074.2,1905.3L1074.4,1907.3L1074.7,1909.2L1074.9,1911.2L1075.2,1913.2L1075.5,1915.2L1075.8,1917.2L1076.0,1919.2L1076.3,1921.1L1076.6,1923.1L1076.9,1925.1L1077.2,1927.1L1077.5,1929.0L1077.8,1931.0L1078.1,1933.0L1078.4,1935.0L1078.7,1937.0L1079.0,1938.9L1079.3,1940.9L1079.6,1942.9L1079.9,1944.9L1080.2,1946.8L1080.6,1948.8L1080.9,1950.8L1081.2,1952.8L1081.6,1954.7L1081.9,1956.7L1082.3,1958.7L1082.7,1960.6L1083.1,1962.6L1083.5,1964.5L1083.9,1966.5L1084.4,1968.4L1084.8,1970.4L1085.3,1972.3L1085.7,1974.3L1086.2,1976.2L1086.7,1978.2L1087.3,1980.1L1087.8,1982.0L1088.4,1983.9L1089.0,1985.8L1089.7,1987.7L1090.4,1989.6L1091.1,1991.5L1091.8,1993.3L1092.5,1995.2L1093.3,1997.0L1094.0,1998.9L1094.8,2000.7L1095.6,2002.6L1096.4,2004.4L1097.2,2006.2L1098.0,2008.1L1098.7,2009.9L1099.5,2011.8L1100.3,2013.6L1101.1,2015.4L1101.9,2017.3L1102.7,2019.1L1103.5,2020.9L1104.3,2022.8L1105.2,2024.6L1106.0,2026.4L1106.9,2028.2L1107.8,2030.0L1108.7,2031.8L1109.6,2033.5L1110.5,2035.3L1111.5,2037.0L1112.5,2038.8L1113.6,2040.5L1114.7,2042.1L1115.8,2043.8L1117.0,2045.4L1118.2,2047.0L1119.5,2048.5L1120.8,2050.0L1122.2,2051.4L1123.6,2052.9L1125.1,2054.2L1126.6,2055.6L1128.1,2056.9L1129.6,2058.1L1131.2,2059.4L1132.8,2060.6L1134.4,2061.7L1136.1,2062.8L1137.9,2063.8L1139.6,2064.7L1141.4,2065.6L1143.2,2066.4L1145.1,2067.1L1147.0,2067.6L1149.0,2068.1L1150.9,2068.4L1152.9,2068.5L1154.9,2068.5L1156.8,2068.2L1158.8,2067.9L1160.7,2067.3L1162.6,2066.7L1164.4,2065.9L1166.2,2065.0L1167.9,2063.9L1169.5,2062.8L1171.2,2061.7L1172.8,2060.6L1174.5,2059.4L1176.1,2058.3L1177.8,2057.2L1179.5,2056.1L1181.2,2055.0L1182.9,2054.1L1184.7,2053.3L1186.6,2052.6L1188.5,2052.1L1190.5,2051.8L1192.4,2051.7L1194.4,2051.8L1196.4,2052.1L1198.3,2052.5L1200.2,2053.0L1202.1,2053.7L1204.0,2054.4L1205.8,2055.2L1207.6,2056.0L1209.4,2056.9L1211.2,2057.9L1213.0,2058.8L1214.7,2059.7L1216.5,2060.6L1218.3,2061.4L1220.1,2062.3L1222.0,2063.1L1223.8,2063.9L1225.6,2064.7L1227.5,2065.4L1229.4,2066.0L1231.3,2066.6L1233.2,2067.2L1235.2,2067.7L1237.1,2068.3L1239.0,2068.9L1240.9,2069.6L1242.7,2070.2L1244.6,2070.8L1246.6,2071.2L1248.6,2071.4L1250.5,2071.5L1252.5,2071.5L1254.5,2071.5L1256.5,2071.3L1258.5,2071.1L1260.5,2070.9L1262.5,2070.5L1264.4,2070.1L1266.4,2069.7L1268.3,2069.2L1270.2,2068.6L1272.1,2068.0L1274.0,2067.3L1275.9,2066.6L1277.7,2065.8L1279.5,2064.9L1281.2,2063.9L1283.0,2062.9L1284.7,2061.9L1286.3,2060.8L1288.0,2059.6L1289.6,2058.4L1291.1,2057.2L1292.7,2055.9L1294.2,2054.6L1295.7,2053.3L1297.2,2051.9L1298.6,2050.6L1300.0,2049.2L1301.4,2047.7L1302.8,2046.3L1304.2,2044.8L1305.6,2043.4L1306.9,2041.9L1308.3,2040.5L1309.6,2039.0L1310.9,2037.5L1312.2,2035.9L1313.5,2034.4L1314.7,2032.8L1315.9,2031.2L1317.0,2029.5L1318.1,2027.8L1319.2,2026.2L1320.2,2024.4L1321.2,2022.7L1322.2,2021.0L1323.2,2019.3L1324.2,2017.5L1325.2,2015.8L1326.2,2014.1L1327.2,2012.3L1328.1,2010.6L1329.1,2008.8L1330.0,2007.0L1331.0,2005.3L1331.8,2003.5L1332.7,2001.7L1333.6,1999.9L1334.4,1998.1L1335.3,1996.2L1336.1,1994.4L1336.9,1992.6L1337.7,1990.7L1338.5,1988.9L1339.2,1987.1L1340.0,1985.2L1340.8,1983.4L1341.5,1981.5L1342.3,1979.7L1343.0,1977.8L1343.7,1975.9L1344.4,1974.1L1345.2,1972.2L1345.9,1970.3L1346.6,1968.5L1347.3,1966.6L1348.0,1964.7L1348.7,1962.8L1349.3,1960.9L1350.0,1959.1L1350.7,1957.2L1351.4,1955.3L1352.0,1953.4L1352.7,1951.5L1353.4,1949.6L1354.0,1947.7L1354.7,1945.9L1355.3,1944.0L1356.0,1942.1L1356.6,1940.2L1357.3,1938.3L1358.0,1936.4L1358.6,1934.5L1359.3,1932.6L1360.0,1930.8L1360.6,1928.9L1361.3,1927.0L1361.9,1925.1L1362.6,1923.2L1363.3,1921.3L1363.9,1919.4L1364.6,1917.5L1365.2,1915.6L1365.8,1913.7L1366.4,1911.8L1367.0,1909.9L1367.6,1908.0L1368.2,1906.1L1368.7,1904.2L1369.2,1902.2L1369.8,1900.3L1370.3,1898.4L1370.8,1896.4L1371.3,1894.5L1371.8,1892.6L1372.3,1890.6L1372.8,1888.7L1373.3,1886.8L1373.9,1884.8L1374.4,1882.9L1374.9,1881.0L1375.5,1879.1L1376.0,1877.1L1376.6,1875.2L1377.1,1873.3L1377.6,1871.4L1378.1,1869.4L1378.6,1867.5L1379.2,1865.6L1379.7,1863.6L1380.2,1861.7L1380.7,1859.7L1381.2,1857.8L1381.6,1855.9L1382.1,1853.9L1382.6,1852.0L1383.1,1850.1L1383.6,1848.1L1384.1,1846.2L1384.6,1844.2L1385.1,1842.3L1385.5,1840.3L1386.0,1838.4L1386.5,1836.5L1386.9,1834.5L1387.4,1832.6L1387.8,1830.6L1388.3,1828.7L1388.7,1826.7L1389.1,1824.8L1389.5,1822.8L1389.9,1820.8L1390.3,1818.9L1390.7,1816.9L1391.1,1815.0L1391.5,1813.0L1392.0,1811.0L1392.4,1809.1L1392.8,1807.1L1393.2,1805.2L1393.6,1803.2L1394.0,1801.3L1394.4,1799.3L1394.8,1797.3L1395.2,1795.4L1395.6,1793.4L1396.0,1791.4L1396.3,1789.5L1396.7,1787.5L1397.1,1785.5L1397.4,1783.6L1397.7,1781.6L1398.1,1779.6L1398.4,1777.7L1398.7,1775.7L1399.1,1773.7L1399.4,1771.7L1399.7,1769.8L1400.1,1767.8L1400.4,1765.8L1400.8,1763.9L1401.2,1761.9L1401.6,1759.9L1402.0,1758.0L1402.4,1756.0L1402.8,1754.1L1403.2,1752.1L1403.6,1750.2L1404.0,1748.2L1404.4,1746.2L1404.8,1744.3L1405.2,1742.3L1405.5,1740.3L1405.9,1738.4L1406.2,1736.4L1406.5,1734.4L1406.9,1732.5L1407.2,1730.5L1407.5,1728.5L1407.9,1726.5L1408.2,1724.6L1408.5,1722.6L1408.9,1720.6L1409.3,1718.7L1409.7,1716.7L1410.1,1714.8L1410.6,1712.8L1411.0,1710.9L1411.4,1708.9L1411.8,1706.9L1412.1,1705.0L1412.4,1703.0L1412.7,1701.0L1413.0,1699.0L1413.3,1697.1L1413.7,1695.1L1414.1,1693.1L1414.5,1691.2L1414.9,1689.2L1415.3,1687.2L1415.6,1685.3L1416.0,1683.3L1416.4,1681.3L1416.7,1679.4L1417.1,1677.4L1417.4,1675.4L1417.7,1673.5L1418.1,1671.5L1418.5,1669.5L1418.8,1667.6L1419.2,1665.6L1419.7,1663.7L1420.1,1661.7L1420.6,1659.8L1421.1,1657.8L1421.7,1655.9L1422.2,1654.0L1422.7,1652.0L1423.2,1650.1L1423.6,1648.2L1424.1,1646.2L1424.5,1644.3L1425.0,1642.3L1425.5,1640.4L1426.0,1638.4L1426.6,1636.5L1427.2,1634.6L1427.8,1632.7L1428.4,1630.8L1429.1,1629.0L1429.9,1627.1L1430.6,1625.2L1431.4,1623.4L1432.2,1621.6L1433.1,1619.8L1433.9,1618.0L1434.9,1616.2L1435.9,1614.6L1437.1,1613.3L1438.4,1612.6L1439.9,1612.6L1441.2,1613.5L1442.4,1614.8L1443.5,1616.4L1444.5,1618.2L1445.3,1619.9L1446.1,1621.8L1446.9,1623.6L1447.6,1625.5L1448.2,1627.4L1448.8,1629.3L1449.4,1631.2L1449.9,1633.2L1450.3,1635.1L1450.8,1637.1L1451.3,1639.0L1451.7,1640.9L1452.2,1642.9L1452.7,1644.8L1453.2,1646.8L1453.6,1648.7L1454.1,1650.7L1454.6,1652.6L1455.0,1654.5L1455.5,1656.5L1455.9,1658.4L1456.4,1660.4L1456.8,1662.4L1457.1,1664.3L1457.5,1666.3L1457.9,1668.3L1458.2,1670.2L1458.5,1672.2L1458.9,1674.2L1459.3,1676.1L1459.6,1678.1L1460.0,1680.1L1460.4,1682.0L1460.8,1684.0L1461.2,1686.0L1461.5,1687.9L1461.9,1689.9L1462.3,1691.8L1462.7,1693.8L1463.0,1695.8L1463.4,1697.7L1463.7,1699.7L1464.1,1701.7L1464.4,1703.7L1464.8,1705.6L1465.1,1707.6L1465.5,1709.6L1465.8,1711.5L1466.1,1713.5L1466.5,1715.5L1466.8,1717.5L1467.1,1719.4L1467.5,1721.4L1467.8,1723.4L1468.2,1725.3L1468.5,1727.3L1468.9,1729.3L1469.2,1731.2L1469.6,1733.2L1469.9,1735.2L1470.2,1737.2L1470.6,1739.1L1470.9,1741.1L1471.3,1743.1L1471.6,1745.0L1472.0,1747.0L1472.3,1749.0L1472.7,1750.9L1473.0,1752.9L1473.3,1754.9L1473.7,1756.9L1474.0,1758.8L1474.3,1760.8L1474.7,1762.8L1475.0,1764.7L1475.4,1766.7L1475.7,1768.7L1476.0,1770.7L1476.4,1772.6L1476.7,1774.6L1477.1,1776.6L1477.4,1778.5L1477.8,1780.5L1478.1,1782.5L1478.5,1784.4L1478.8,1786.4L1479.2,1788.4L1479.5,1790.4L1479.9,1792.3L1480.2,1794.3L1480.6,1796.3L1481.0,1798.2L1481.3,1800.2L1481.7,1802.2L1482.1,1804.1L1482.4,1806.1L1482.8,1808.0L1483.2,1810.0L1483.6,1812.0L1484.0,1813.9L1484.4,1815.9L1484.8,1817.8L1485.3,1819.8L1485.7,1821.8L1486.1,1823.7L1486.5,1825.7L1487.0,1827.6L1487.4,1829.6L1487.8,1831.5L1488.3,1833.5L1488.7,1835.4L1489.1,1837.4L1489.6,1839.3L1490.0,1841.3L1490.4,1843.2L1490.8,1845.2L1491.3,1847.1L1491.7,1849.1L1492.1,1851.1L1492.6,1853.0L1493.0,1855.0L1493.4,1856.9L1493.9,1858.9L1494.3,1860.8L1494.8,1862.8L1495.2,1864.7L1495.7,1866.7L1496.2,1868.6L1496.7,1870.5L1497.1,1872.5L1497.6,1874.4L1498.1,1876.4L1498.6,1878.3L1499.1,1880.2L1499.6,1882.2L1500.1,1884.1L1500.6,1886.1L1501.1,1888.0L1501.6,1889.9L1502.1,1891.9L1502.5,1893.8L1503.0,1895.7L1503.5,1897.7L1504.0,1899.6L1504.5,1901.6L1505.0,1903.5L1505.5,1905.4L1506.1,1907.4L1506.6,1909.3L1507.1,1911.2L1507.7,1913.1L1508.3,1915.0L1508.9,1917.0L1509.5,1918.9L1510.1,1920.8L1510.7,1922.7L1511.3,1924.6L1511.9,1926.5L1512.4,1928.4L1513.0,1930.3L1513.5,1932.3L1513.9,1934.2L1514.4,1936.2L1514.8,1938.1L1515.2,1940.1L1515.6,1942.0L1516.1,1944.0L1516.5,1945.9L1516.9,1947.9L1517.4,1949.8L1517.8,1951.8L1518.2,1953.8L1518.7,1955.7L1519.1,1957.7L1519.6,1959.6L1520.0,1961.5L1520.5,1963.5L1521.0,1965.4L1521.5,1967.4L1521.9,1969.3L1522.4,1971.3L1522.9,1973.2L1523.4,1975.1L1524.0,1977.1L1524.5,1979.0L1525.0,1980.9L1525.5,1982.8L1526.1,1984.8L1526.6,1986.7L1527.2,1988.6L1527.7,1990.5L1528.3,1992.5L1528.8,1994.4L1529.4,1996.3L1529.9,1998.2L1530.5,2000.1L1531.1,2002.1L1531.7,2004.0L1532.3,2005.9L1532.9,2007.8L1533.6,2009.7L1534.2,2011.6L1534.9,2013.4L1535.5,2015.3L1536.2,2017.2L1536.9,2019.1L1537.6,2021.0L1538.3,2022.8L1539.0,2024.7L1539.8,2026.6L1540.5,2028.4L1541.3,2030.3L1542.0,2032.1L1542.8,2034.0L1543.6,2035.8L1544.3,2037.7L1545.1,2039.5L1545.9,2041.3L1546.7,2043.2L1547.5,2045.0L1548.4,2046.8L1549.2,2048.6L1550.1,2050.4L1551.1,2052.2L1552.0,2053.9L1553.0,2055.7L1554.0,2057.4L1555.0,2059.1L1556.0,2060.8L1557.1,2062.5L1558.2,2064.2L1559.3,2065.9L1560.4,2067.5L1561.6,2069.1L1562.8,2070.8L1564.0,2072.3L1565.2,2073.9L1566.5,2075.5L1567.8,2077.0L1569.1,2078.5L1570.4,2080.0L1571.8,2081.4L1573.3,2082.8L1574.8,2084.1L1576.3,2085.4L1577.7,2086.8L1579.2,2088.2L1580.6,2089.6L1582.0,2091.0L1583.4,2092.4L1584.8,2093.8L1586.3,2095.2L1587.7,2096.6L1589.2,2098.0L1590.7,2099.3L1592.2,2100.5L1593.8,2101.8L1595.4,2103.0L1597.0,2104.2L1598.5,2105.5L1600.0,2106.8L1601.5,2108.1L1603.0,2109.4L1604.6,2110.6L1606.3,2111.8L1607.9,2112.8L1609.7,2113.9L1611.4,2114.9L1613.1,2115.9L1614.8,2116.9L1616.5,2118.0L1618.2,2119.0L1620.0,2120.0L1621.7,2120.9L1623.5,2121.9L1625.2,2122.8L1627.0,2123.7L1628.8,2124.6L1630.6,2125.5L1632.4,2126.4L1634.2,2127.3L1636.0,2128.2L1637.8,2129.1L1639.6,2130.0L1641.4,2130.8L1643.2,2131.6L1645.0,2132.5L1646.8,2133.3L1648.6,2134.2L1650.4,2135.1L1652.2,2136.0L1654.0,2136.9L1655.8,2137.8L1657.6,2138.7L1659.4,2139.5L1661.2,2140.3L1663.1,2141.1L1664.9,2141.9L1666.7,2142.6L1668.6,2143.5L1670.4,2144.3L1672.2,2145.2L1673.9,2146.1L1675.7,2147.0L1677.5,2147.9L1679.3,2148.8L1681.1,2149.7L1682.9,2150.6L1684.7,2151.5L1686.4,2152.4L1688.2,2153.3L1690.0,2154.2L1691.8,2155.1L1693.6,2156.0L1695.4,2156.8L1697.2,2157.7L1699.0,2158.6L1700.8,2159.5L1702.6,2160.4L1704.4,2161.3L1706.1,2162.2L1707.9,2163.1L1709.7,2164.1L1711.5,2165.0L1713.2,2165.9L1715.0,2166.8L1716.8,2167.8L1718.6,2168.7L1720.3,2169.6L1722.1,2170.6L1723.9,2171.5L1725.6,2172.4L1727.4,2173.4L1729.1,2174.3L1730.9,2175.3L1732.6,2176.3L1734.4,2177.2L1736.1,2178.2L1737.9,2179.2L1739.6,2180.2L1741.4,2181.2L1743.1,2182.2L1744.9,2183.1L1746.6,2184.1L1748.4,2185.0L1750.2,2185.9L1751.9,2186.8L1753.7,2187.7L1755.5,2188.6L1757.4,2189.4L1759.2,2190.2L1761.0,2191.0L1762.9,2191.8L1764.7,2192.6L1766.5,2193.4L1768.4,2194.1L1770.3,2194.9L1772.1,2195.6L1774.0,2196.3L1775.8,2197.0L1777.7,2197.7L1779.6,2198.4L1781.5,2199.1L1783.3,2199.8L1785.2,2200.5L1787.1,2201.1L1789.0,2201.8L1790.9,2202.4L1792.8,2203.1L1794.7,2203.7L1796.6,2204.3L1798.5,2204.9L1800.4,2205.5L1802.3,2206.1L1804.3,2206.6L1806.2,2207.2L1808.1,2207.7L1810.0,2208.3L1812.0,2208.8L1813.9,2209.3L1815.8,2209.8L1817.8,2210.3L1819.7,2210.8L1821.7,2211.3L1823.6,2211.7L1825.6,2212.2L1827.5,2212.6L1829.5,2213.0L1831.4,2213.4L1833.4,2213.8L1835.3,2214.2L1837.3,2214.5L1839.3,2214.9L1841.2,2215.2L1843.2,2215.6L1845.2,2215.9L1847.2,2216.3L1849.1,2216.6L1851.1,2216.8L1853.1,2217.1L1855.1,2217.4L1857.1,2217.6L1859.1,2217.9L1861.0,2218.1L1863.0,2218.4L1865.0,2218.6L1867.0,2218.9L1869.0,2219.1L1871.0,2219.4L1872.9,2219.6L1874.9,2219.9L1876.9,2220.1L1878.9,2220.4L1880.9,2220.6L1882.9,2220.9L1884.8,2221.1L1886.8,2221.4L1888.8,2221.7L1890.8,2221.9L1892.8,2222.2L1894.8,2222.4L1896.8,2222.7L1898.7,2222.9L1900.7,2223.2L1902.7,2223.4L1904.7,2223.6L1906.7,2223.9L1908.7,2224.1L1910.7,2224.3L1912.7,2224.5L1914.6,2224.7L1916.6,2224.8L1918.6,2225.0L1920.6,2225.2L1922.6,2225.4L1924.6,2225.5L1926.6,2225.7L1928.6,2225.9L1930.6,2226.0L1932.6,2226.2L1934.6,2226.3L1936.6,2226.5L1938.6,2226.6L1940.6,2226.7L1942.6,2226.9L1944.5,2227.0L1946.5,2227.1L1948.5,2227.3L1950.5,2227.4L1952.5,2227.5L1954.5,2227.6L1956.5,2227.8L1958.5,2227.9L1960.5,2228.0L1962.5,2228.1L1964.5,2228.2L1966.5,2228.3L1968.5,2228.4L1970.5,2228.5L1972.5,2228.6L1974.5,2228.7L1976.5,2228.7L1978.5,2228.8L1980.5,2228.9L1982.5,2228.9L1984.5,2229.0L1986.5,2229.1L1988.5,2229.1L1990.5,2229.2L1992.5,2229.3L1994.5,2229.3L1996.5,2229.4L1998.5,2229.5L2000.5,2229.6L2002.5,2229.8L2004.5,2229.9L2006.5,2230.0L2008.5,2230.2L2010.5,2230.3L2012.5,2230.5L2014.5,2230.6L2016.4,2230.8L2018.4,2231.0L2020.4,2231.2L2022.4,2231.5L2024.4,2231.7L2026.4,2232.0L2028.4,2232.2L2030.3,2232.5L2032.3,2232.8L2034.3,2233.1L2036.3,2233.4L2038.2,2233.7L2040.2,2234.1L2042.2,2234.4L2044.2,2234.7L2046.1,2235.0L2048.1,2235.3L2050.1,2235.6L2052.1,2235.9L2054.0,2236.2L2055.9,2236.4L2057.6,2236.7L2058.8,2236.8" stroke="#000" stroke-width="3.9"/>
</g>
</g>
<g stroke="#000" fill="none">
<line x1="1006.5" y1="191" x2="1006.5" y2="1219" stroke-width="5"/>
<line x1="1437.5" y1="179" x2="1437.5" y2="1224" stroke-width="5"/>
<rect x="278" y="78" width="1779" height="1307" stroke-width="6"/>
<rect x="278.5" y="1395.5" width="1778" height="874" stroke-width="5"/>
<g stroke-width="6"><line x1="381.1" y1="1347" x2="381.1" y2="1385"/><line x1="896.6" y1="1347" x2="896.6" y2="1385"/><line x1="1412.2" y1="1347" x2="1412.2" y2="1385"/><line x1="1927.7" y1="1347" x2="1927.7" y2="1385"/><line x1="638.9" y1="1365" x2="638.9" y2="1385"/><line x1="1154.4" y1="1365" x2="1154.4" y2="1385"/><line x1="1670.0" y1="1365" x2="1670.0" y2="1385"/></g>
<g stroke-width="5"><line x1="381.1" y1="2239" x2="381.1" y2="2269"/><line x1="896.6" y1="2239" x2="896.6" y2="2269"/><line x1="1412.2" y1="2239" x2="1412.2" y2="2269"/><line x1="1927.7" y1="2239" x2="1927.7" y2="2269"/><line x1="638.9" y1="2252" x2="638.9" y2="2269"/><line x1="1154.4" y1="2252" x2="1154.4" y2="2269"/><line x1="1670.0" y1="2252" x2="1670.0" y2="2269"/></g>
</g>
<g font-family="&quot;Liberation Serif&quot;, &quot;Times New Roman&quot;, serif" font-size="100">
<text transform="matrix(1.3087 0 0 1.3056 186.29 -29.93)" x="100" y="200" fill="#000">(a)</text>
<text transform="matrix(1.0245 0 0 0.9692 808.27 4.05)" x="100" y="200" fill="#000">E</text>
<text transform="matrix(0.5886 0 0 0.5301 911.68 116.54)" x="100" y="200" fill="#000">g</text>
<text transform="matrix(0.8686 0 0 0.9046 1373.27 17.78)" x="100" y="200" fill="#000">A</text>
<text transform="matrix(0.5607 0 0 0.5828 1469.99 105.21)" x="100" y="200" fill="#000">1g</text>
<text transform="matrix(0.9458 0 0 0.9638 373.69 336.93)" x="100" y="200" fill="#000">B</text>
<text transform="matrix(0.5629 0 0 0.5839 477.54 436.76)" x="100" y="200" fill="#000">1g</text>
<text transform="matrix(0.6363 0 0 0.6426 1524.32 614.69)" x="100" y="200" fill="#000080">2.5% WTO-1400</text>
<text transform="matrix(0.6293 0 0 0.6221 1506.95 906.64)" x="100" y="200" fill="#008000">0.25% WTO-1500</text>
<text transform="matrix(0.6347 0 0 0.6368 1511.39 1195.07)" x="100" y="200" fill="#ff0000">2.5% WTO-1500</text>
<text transform="matrix(1.3056 0 0 1.3189 187.02 1333.83)" x="100" y="200" fill="#000">(b)</text>
<text transform="matrix(0.9377 0 0 0.8708 775.41 1387.65)" x="100" y="200" fill="#000">E</text>
<text transform="matrix(0.5909 0 0 0.5315 864.55 1476.34)" x="100" y="200" fill="#000">g</text>
<text transform="matrix(0.8700 0 0 0.8923 1378.13 1456.33)" x="100" y="200" fill="#000">A</text>
<text transform="matrix(0.5730 0 0 0.5977 1472.54 1533.91)" x="100" y="200" fill="#000">1g</text>
<text transform="matrix(0.8644 0 0 0.8723 363.97 1698.24)" x="100" y="200" fill="#000">B</text>
<text transform="matrix(0.5708 0 0 0.5931 453.98 1773.52)" x="100" y="200" fill="#000">1g</text>
<text transform="matrix(0.8609 0 0 0.9015 1748.09 1386.60)" x="100" y="200" fill="#000">TiO</text>
<text transform="matrix(0.6225 0 0 0.6123 1905.26 1465.34)" x="100" y="200" fill="#000">2</text>
<text transform="matrix(0.9162 0 0 0.9284 220.72 2184.47)" x="100" y="200" fill="#000">200</text>
<text transform="matrix(0.9083 0 0 0.9254 738.45 2184.87)" x="100" y="200" fill="#000">400</text>
<text transform="matrix(0.9239 0 0 0.9284 1251.51 2184.47)" x="100" y="200" fill="#000">600</text>
<text transform="matrix(0.9099 0 0 0.9284 1770.07 2184.47)" x="100" y="200" fill="#000">800</text>
<text transform="matrix(1.1863 0 0 1.1778 622.07 2261.41)" x="100" y="200" fill="#000">Wavenumber (cm</text>
<text transform="matrix(0.7452 0 0 0.8167 1508.00 2299.37)" x="100" y="200" fill="#000">-1</text>
<text transform="matrix(1.2038 0 0 1.1778 1528.80 2261.41)" x="100" y="200" fill="#000">)</text>
<text transform="matrix(0 -1.2974 1.3178 0 -123.43 1724.93)" x="100" y="200" fill="#000">Intensity (a.u.)</text>
</g>
</svg>
</body></html>
